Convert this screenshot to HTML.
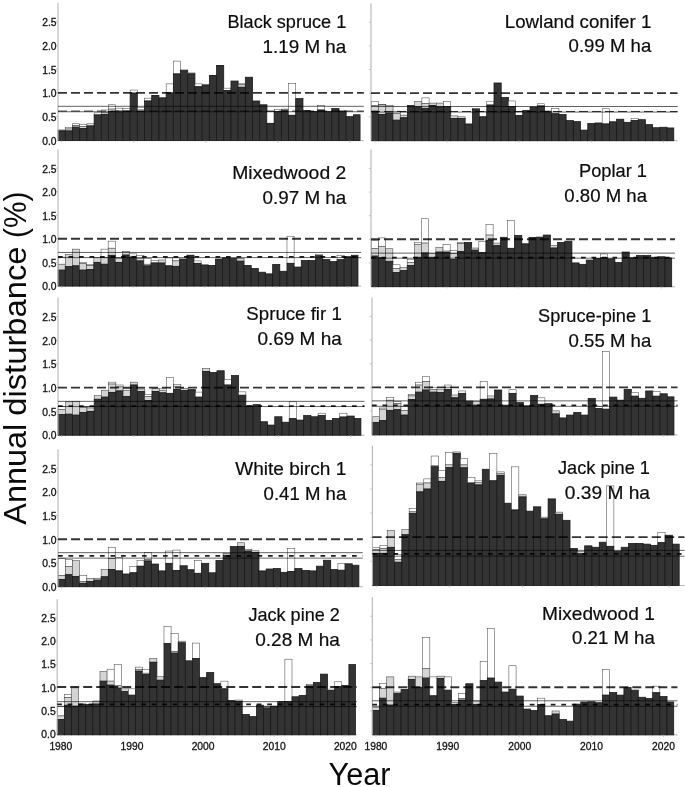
<!DOCTYPE html>
<html lang="en"><head><meta charset="utf-8"><title>Annual disturbance by forest type</title>
<style>html,body{margin:0;padding:0;background:#fff}svg{display:block}text{font-family:"Liberation Sans",Arial,sans-serif;fill:#111}.tk{font-size:10.3px;fill:#141414;stroke:#141414;stroke-width:0.3px}.lb{font-size:18.2px;fill:#0d0d0d;stroke:#0d0d0d;stroke-width:0.2px}.big{font-size:31px;fill:#0a0a0a}</style></head><body>
<svg width="685" height="787" viewBox="0 0 685 787">
<rect width="685" height="787" fill="#fff"/>
<g>
<path d="M58 140.65H363.8" stroke="#a0a0a0" stroke-width="0.8" fill="none"/><rect x="58.1" y="129.95" width="7.2" height="0.95" fill="#d4d4d4" stroke="#444" stroke-width="0.55"/><rect x="58.1" y="130.9" width="7.2" height="9.7" fill="#333333" stroke="#161616" stroke-width="0.75"/>
<rect x="65.3" y="127.58" width="7.2" height="1.42" fill="#fff" stroke="#3d3d3d" stroke-width="0.5"/><rect x="65.3" y="129" width="7.2" height="1.9" fill="#d4d4d4" stroke="#444" stroke-width="0.55"/><rect x="65.3" y="130.9" width="7.2" height="9.7" fill="#333333" stroke="#161616" stroke-width="0.75"/>
<rect x="72.5" y="123.78" width="7.2" height="1.9" fill="#fff" stroke="#3d3d3d" stroke-width="0.5"/><rect x="72.5" y="125.68" width="7.2" height="1.42" fill="#d4d4d4" stroke="#444" stroke-width="0.55"/><rect x="72.5" y="127.1" width="7.2" height="13.5" fill="#333333" stroke="#161616" stroke-width="0.75"/>
<rect x="79.71" y="124.73" width="7.2" height="1.9" fill="#fff" stroke="#3d3d3d" stroke-width="0.5"/><rect x="79.71" y="126.62" width="7.2" height="1.9" fill="#d4d4d4" stroke="#444" stroke-width="0.55"/><rect x="79.71" y="128.53" width="7.2" height="12.07" fill="#333333" stroke="#161616" stroke-width="0.75"/>
<rect x="86.91" y="123.78" width="7.2" height="1.42" fill="#fff" stroke="#3d3d3d" stroke-width="0.5"/><rect x="86.91" y="125.2" width="7.2" height="0.95" fill="#d4d4d4" stroke="#444" stroke-width="0.55"/><rect x="86.91" y="126.15" width="7.2" height="14.45" fill="#333333" stroke="#161616" stroke-width="0.75"/>
<rect x="94.11" y="112.85" width="7.2" height="1.42" fill="#fff" stroke="#3d3d3d" stroke-width="0.5"/><rect x="94.11" y="114.28" width="7.2" height="0.95" fill="#d4d4d4" stroke="#444" stroke-width="0.55"/><rect x="94.11" y="115.23" width="7.2" height="25.37" fill="#333333" stroke="#161616" stroke-width="0.75"/>
<rect x="101.31" y="110" width="7.2" height="2.38" fill="#fff" stroke="#3d3d3d" stroke-width="0.5"/><rect x="101.31" y="112.38" width="7.2" height="1.9" fill="#d4d4d4" stroke="#444" stroke-width="0.55"/><rect x="101.31" y="114.28" width="7.2" height="26.32" fill="#333333" stroke="#161616" stroke-width="0.75"/>
<rect x="108.51" y="104.78" width="7.2" height="4.28" fill="#fff" stroke="#3d3d3d" stroke-width="0.5"/><rect x="108.51" y="109.05" width="7.2" height="2.38" fill="#d4d4d4" stroke="#444" stroke-width="0.55"/><rect x="108.51" y="111.43" width="7.2" height="29.17" fill="#333333" stroke="#161616" stroke-width="0.75"/>
<rect x="115.72" y="108.1" width="7.2" height="2.85" fill="#fff" stroke="#3d3d3d" stroke-width="0.5"/><rect x="115.72" y="110.95" width="7.2" height="0.95" fill="#d4d4d4" stroke="#444" stroke-width="0.55"/><rect x="115.72" y="111.9" width="7.2" height="28.7" fill="#333333" stroke="#161616" stroke-width="0.75"/>
<rect x="122.92" y="108.58" width="7.2" height="2.38" fill="#fff" stroke="#3d3d3d" stroke-width="0.5"/><rect x="122.92" y="110.95" width="7.2" height="0.48" fill="#d4d4d4" stroke="#444" stroke-width="0.55"/><rect x="122.92" y="111.43" width="7.2" height="29.17" fill="#333333" stroke="#161616" stroke-width="0.75"/>
<rect x="130.12" y="90.05" width="7.2" height="2.85" fill="#fff" stroke="#3d3d3d" stroke-width="0.5"/><rect x="130.12" y="92.9" width="7.2" height="0.47" fill="#d4d4d4" stroke="#444" stroke-width="0.55"/><rect x="130.12" y="93.38" width="7.2" height="47.22" fill="#333333" stroke="#161616" stroke-width="0.75"/>
<rect x="137.32" y="107.62" width="7.2" height="2.38" fill="#fff" stroke="#3d3d3d" stroke-width="0.5"/><rect x="137.32" y="110" width="7.2" height="1.43" fill="#d4d4d4" stroke="#444" stroke-width="0.55"/><rect x="137.32" y="111.43" width="7.2" height="29.17" fill="#333333" stroke="#161616" stroke-width="0.75"/>
<rect x="144.52" y="98.12" width="7.2" height="2.38" fill="#fff" stroke="#3d3d3d" stroke-width="0.5"/><rect x="144.52" y="100.5" width="7.2" height="0.95" fill="#d4d4d4" stroke="#444" stroke-width="0.55"/><rect x="144.52" y="101.45" width="7.2" height="39.15" fill="#333333" stroke="#161616" stroke-width="0.75"/>
<rect x="151.73" y="95.28" width="7.2" height="0.47" fill="#d4d4d4" stroke="#444" stroke-width="0.55"/><rect x="151.73" y="95.75" width="7.2" height="44.85" fill="#333333" stroke="#161616" stroke-width="0.75"/>
<rect x="158.93" y="97.65" width="7.2" height="0.47" fill="#fff" stroke="#3d3d3d" stroke-width="0.5"/><rect x="158.93" y="98.12" width="7.2" height="42.47" fill="#333333" stroke="#161616" stroke-width="0.75"/>
<rect x="166.13" y="83.88" width="7.2" height="9.03" fill="#fff" stroke="#3d3d3d" stroke-width="0.5"/><rect x="166.13" y="92.9" width="7.2" height="47.7" fill="#333333" stroke="#161616" stroke-width="0.75"/>
<rect x="173.33" y="61.08" width="7.2" height="12.83" fill="#fff" stroke="#3d3d3d" stroke-width="0.5"/><rect x="173.33" y="73.9" width="7.2" height="66.7" fill="#333333" stroke="#161616" stroke-width="0.75"/>
<rect x="180.53" y="70.1" width="7.2" height="70.5" fill="#333333" stroke="#161616" stroke-width="0.75"/>
<rect x="187.74" y="72.95" width="7.2" height="0.95" fill="#d4d4d4" stroke="#444" stroke-width="0.55"/><rect x="187.74" y="73.9" width="7.2" height="66.7" fill="#333333" stroke="#161616" stroke-width="0.75"/>
<rect x="194.94" y="83.88" width="7.2" height="2.85" fill="#fff" stroke="#3d3d3d" stroke-width="0.5"/><rect x="194.94" y="86.73" width="7.2" height="53.87" fill="#333333" stroke="#161616" stroke-width="0.75"/>
<rect x="202.14" y="84.83" width="7.2" height="55.77" fill="#333333" stroke="#161616" stroke-width="0.75"/>
<rect x="209.34" y="75.33" width="7.2" height="0.47" fill="#d4d4d4" stroke="#444" stroke-width="0.55"/><rect x="209.34" y="75.8" width="7.2" height="64.8" fill="#333333" stroke="#161616" stroke-width="0.75"/>
<rect x="216.54" y="65.35" width="7.2" height="0.47" fill="#d4d4d4" stroke="#444" stroke-width="0.55"/><rect x="216.54" y="65.83" width="7.2" height="74.77" fill="#333333" stroke="#161616" stroke-width="0.75"/>
<rect x="223.75" y="88.15" width="7.2" height="2.38" fill="#fff" stroke="#3d3d3d" stroke-width="0.5"/><rect x="223.75" y="90.53" width="7.2" height="50.07" fill="#333333" stroke="#161616" stroke-width="0.75"/>
<rect x="230.95" y="81.03" width="7.2" height="59.57" fill="#333333" stroke="#161616" stroke-width="0.75"/>
<rect x="238.15" y="83.4" width="7.2" height="1.43" fill="#fff" stroke="#3d3d3d" stroke-width="0.5"/><rect x="238.15" y="84.83" width="7.2" height="2.37" fill="#d4d4d4" stroke="#444" stroke-width="0.55"/><rect x="238.15" y="87.2" width="7.2" height="53.4" fill="#333333" stroke="#161616" stroke-width="0.75"/>
<rect x="245.35" y="77.22" width="7.2" height="63.38" fill="#333333" stroke="#161616" stroke-width="0.75"/>
<rect x="252.55" y="100.98" width="7.2" height="39.62" fill="#333333" stroke="#161616" stroke-width="0.75"/>
<rect x="259.76" y="104.78" width="7.2" height="35.82" fill="#333333" stroke="#161616" stroke-width="0.75"/>
<rect x="266.96" y="111.43" width="7.2" height="11.88" fill="#fff" stroke="#3d3d3d" stroke-width="0.5"/><rect x="266.96" y="123.3" width="7.2" height="17.3" fill="#333333" stroke="#161616" stroke-width="0.75"/>
<rect x="274.16" y="109.53" width="7.2" height="1.9" fill="#fff" stroke="#3d3d3d" stroke-width="0.5"/><rect x="274.16" y="111.43" width="7.2" height="29.17" fill="#333333" stroke="#161616" stroke-width="0.75"/>
<rect x="281.36" y="109.05" width="7.2" height="0.95" fill="#fff" stroke="#3d3d3d" stroke-width="0.5"/><rect x="281.36" y="110" width="7.2" height="0.95" fill="#d4d4d4" stroke="#444" stroke-width="0.55"/><rect x="281.36" y="110.95" width="7.2" height="29.65" fill="#333333" stroke="#161616" stroke-width="0.75"/>
<rect x="288.56" y="83.4" width="7.2" height="31.83" fill="#fff" stroke="#3d3d3d" stroke-width="0.5"/><rect x="288.56" y="115.23" width="7.2" height="25.37" fill="#333333" stroke="#161616" stroke-width="0.75"/>
<rect x="295.77" y="98.6" width="7.2" height="42" fill="#333333" stroke="#161616" stroke-width="0.75"/>
<rect x="302.97" y="110.48" width="7.2" height="30.12" fill="#333333" stroke="#161616" stroke-width="0.75"/>
<rect x="310.17" y="111.43" width="7.2" height="29.17" fill="#333333" stroke="#161616" stroke-width="0.75"/>
<rect x="317.37" y="105.73" width="7.2" height="4.27" fill="#fff" stroke="#3d3d3d" stroke-width="0.5"/><rect x="317.37" y="110" width="7.2" height="30.6" fill="#333333" stroke="#161616" stroke-width="0.75"/>
<rect x="324.57" y="111.66" width="7.2" height="28.94" fill="#333333" stroke="#161616" stroke-width="0.75"/>
<rect x="331.78" y="108.58" width="7.2" height="32.02" fill="#333333" stroke="#161616" stroke-width="0.75"/>
<rect x="338.98" y="110.95" width="7.2" height="29.65" fill="#333333" stroke="#161616" stroke-width="0.75"/>
<rect x="346.18" y="116.65" width="7.2" height="23.95" fill="#333333" stroke="#161616" stroke-width="0.75"/>
<rect x="353.38" y="114.75" width="6.7" height="25.85" fill="#333333" stroke="#161616" stroke-width="0.75"/>
<path d="M58 2.65V140.4" stroke="#b2b2b2" stroke-width="1.05" fill="none"/><path d="M57.5 116.65h-1.6M57.5 92.9h-1.6M57.5 69.15h-1.6M57.5 45.4h-1.6M57.5 21.65h-1.6M61.7 140.4v2M133.72 140.4v2M205.74 140.4v2M277.76 140.4v2M349.78 140.4v2" stroke="#a8a8a8" stroke-width="0.7" fill="none"/>
<path d="M58 92.9H363.8" stroke="#000" stroke-opacity="0.8" stroke-width="1.9" stroke-dasharray="9 4" fill="none"/><path d="M58 106.3H363.8" stroke="#000" stroke-width="0.62" fill="none"/><path d="M58 111.76H363.8" stroke="#000" stroke-width="0.6" fill="none"/><path d="M58 111.09H363.8" stroke="#000" stroke-opacity="0.8" stroke-width="1" stroke-dasharray="9 4" fill="none"/>
<text class="tk" x="56.5" y="144.85" text-anchor="end">0.0</text><text class="tk" x="56.5" y="121.1" text-anchor="end">0.5</text><text class="tk" x="56.5" y="97.35" text-anchor="end">1.0</text><text class="tk" x="56.5" y="73.6" text-anchor="end">1.5</text><text class="tk" x="56.5" y="49.85" text-anchor="end">2.0</text><text class="tk" x="56.5" y="26.1" text-anchor="end">2.5</text>
<text class="lb" x="346.3" y="27.5" text-anchor="end" textLength="118.86" lengthAdjust="spacingAndGlyphs">Black spruce 1</text><text class="lb" x="346.3" y="52.5" text-anchor="end" textLength="83.69" lengthAdjust="spacingAndGlyphs">1.19 M ha</text>
</g>
<g>
<path d="M371 140.75H677.6" stroke="#a0a0a0" stroke-width="0.8" fill="none"/><rect x="371.4" y="101.67" width="7.21" height="3.79" fill="#fff" stroke="#3d3d3d" stroke-width="0.5"/><rect x="371.4" y="105.46" width="7.21" height="5.68" fill="#d4d4d4" stroke="#444" stroke-width="0.55"/><rect x="371.4" y="111.14" width="7.21" height="29.56" fill="#333333" stroke="#161616" stroke-width="0.75"/>
<rect x="378.61" y="104.51" width="7.21" height="0.47" fill="#fff" stroke="#3d3d3d" stroke-width="0.5"/><rect x="378.61" y="104.99" width="7.21" height="9.47" fill="#d4d4d4" stroke="#444" stroke-width="0.55"/><rect x="378.61" y="114.46" width="7.21" height="26.24" fill="#333333" stroke="#161616" stroke-width="0.75"/>
<rect x="385.82" y="105.46" width="7.21" height="7.58" fill="#d4d4d4" stroke="#444" stroke-width="0.55"/><rect x="385.82" y="113.04" width="7.21" height="27.66" fill="#333333" stroke="#161616" stroke-width="0.75"/>
<rect x="393.04" y="111.14" width="7.21" height="2.37" fill="#fff" stroke="#3d3d3d" stroke-width="0.5"/><rect x="393.04" y="113.51" width="7.21" height="6.63" fill="#d4d4d4" stroke="#444" stroke-width="0.55"/><rect x="393.04" y="120.14" width="7.21" height="20.56" fill="#333333" stroke="#161616" stroke-width="0.75"/>
<rect x="400.25" y="111.85" width="7.21" height="3.31" fill="#fff" stroke="#3d3d3d" stroke-width="0.5"/><rect x="400.25" y="115.17" width="7.21" height="2.6" fill="#d4d4d4" stroke="#444" stroke-width="0.55"/><rect x="400.25" y="117.77" width="7.21" height="22.93" fill="#333333" stroke="#161616" stroke-width="0.75"/>
<rect x="407.46" y="105.46" width="7.21" height="35.24" fill="#333333" stroke="#161616" stroke-width="0.75"/>
<rect x="414.67" y="101.67" width="7.21" height="5.21" fill="#d4d4d4" stroke="#444" stroke-width="0.55"/><rect x="414.67" y="106.88" width="7.21" height="33.82" fill="#333333" stroke="#161616" stroke-width="0.75"/>
<rect x="421.88" y="97.88" width="7.21" height="5.68" fill="#fff" stroke="#3d3d3d" stroke-width="0.5"/><rect x="421.88" y="103.57" width="7.21" height="4.73" fill="#d4d4d4" stroke="#444" stroke-width="0.55"/><rect x="421.88" y="108.3" width="7.21" height="32.4" fill="#333333" stroke="#161616" stroke-width="0.75"/>
<rect x="429.1" y="103.09" width="7.21" height="2.37" fill="#d4d4d4" stroke="#444" stroke-width="0.55"/><rect x="429.1" y="105.46" width="7.21" height="35.24" fill="#333333" stroke="#161616" stroke-width="0.75"/>
<rect x="436.31" y="103.09" width="7.21" height="3.79" fill="#d4d4d4" stroke="#444" stroke-width="0.55"/><rect x="436.31" y="106.88" width="7.21" height="33.82" fill="#333333" stroke="#161616" stroke-width="0.75"/>
<rect x="443.52" y="101.67" width="7.21" height="4.73" fill="#fff" stroke="#3d3d3d" stroke-width="0.5"/><rect x="443.52" y="106.41" width="7.21" height="34.29" fill="#333333" stroke="#161616" stroke-width="0.75"/>
<rect x="450.73" y="115.88" width="7.21" height="2.6" fill="#d4d4d4" stroke="#444" stroke-width="0.55"/><rect x="450.73" y="118.48" width="7.21" height="22.22" fill="#333333" stroke="#161616" stroke-width="0.75"/>
<rect x="457.94" y="116.83" width="7.21" height="1.66" fill="#d4d4d4" stroke="#444" stroke-width="0.55"/><rect x="457.94" y="118.48" width="7.21" height="22.22" fill="#333333" stroke="#161616" stroke-width="0.75"/>
<rect x="465.16" y="123.93" width="7.21" height="16.77" fill="#333333" stroke="#161616" stroke-width="0.75"/>
<rect x="472.37" y="108.3" width="7.21" height="0.95" fill="#d4d4d4" stroke="#444" stroke-width="0.55"/><rect x="472.37" y="109.25" width="7.21" height="31.45" fill="#333333" stroke="#161616" stroke-width="0.75"/>
<rect x="479.58" y="111.62" width="7.21" height="5.21" fill="#fff" stroke="#3d3d3d" stroke-width="0.5"/><rect x="479.58" y="116.83" width="7.21" height="23.87" fill="#333333" stroke="#161616" stroke-width="0.75"/>
<rect x="486.79" y="101.2" width="7.21" height="3.79" fill="#fff" stroke="#3d3d3d" stroke-width="0.5"/><rect x="486.79" y="104.99" width="7.21" height="35.71" fill="#333333" stroke="#161616" stroke-width="0.75"/>
<rect x="494" y="82.97" width="7.21" height="57.73" fill="#333333" stroke="#161616" stroke-width="0.75"/>
<rect x="501.22" y="97.41" width="7.21" height="43.29" fill="#333333" stroke="#161616" stroke-width="0.75"/>
<rect x="508.43" y="100.96" width="7.21" height="5.45" fill="#fff" stroke="#3d3d3d" stroke-width="0.5"/><rect x="508.43" y="106.41" width="7.21" height="34.29" fill="#333333" stroke="#161616" stroke-width="0.75"/>
<rect x="515.64" y="111.62" width="7.21" height="3.79" fill="#fff" stroke="#3d3d3d" stroke-width="0.5"/><rect x="515.64" y="115.4" width="7.21" height="25.3" fill="#333333" stroke="#161616" stroke-width="0.75"/>
<rect x="522.85" y="110.43" width="7.21" height="30.27" fill="#333333" stroke="#161616" stroke-width="0.75"/>
<rect x="530.06" y="106.88" width="7.21" height="0.71" fill="#d4d4d4" stroke="#444" stroke-width="0.55"/><rect x="530.06" y="107.59" width="7.21" height="33.11" fill="#333333" stroke="#161616" stroke-width="0.75"/>
<rect x="537.28" y="103.8" width="7.21" height="2.13" fill="#fff" stroke="#3d3d3d" stroke-width="0.5"/><rect x="537.28" y="105.93" width="7.21" height="34.77" fill="#333333" stroke="#161616" stroke-width="0.75"/>
<rect x="544.49" y="111.14" width="7.21" height="29.56" fill="#333333" stroke="#161616" stroke-width="0.75"/>
<rect x="551.7" y="108.54" width="7.21" height="5.21" fill="#fff" stroke="#3d3d3d" stroke-width="0.5"/><rect x="551.7" y="113.75" width="7.21" height="26.95" fill="#333333" stroke="#161616" stroke-width="0.75"/>
<rect x="558.91" y="114.46" width="7.21" height="26.24" fill="#333333" stroke="#161616" stroke-width="0.75"/>
<rect x="566.12" y="120.61" width="7.21" height="20.09" fill="#333333" stroke="#161616" stroke-width="0.75"/>
<rect x="573.34" y="121.56" width="7.21" height="19.14" fill="#333333" stroke="#161616" stroke-width="0.75"/>
<rect x="580.55" y="130.08" width="7.21" height="10.62" fill="#333333" stroke="#161616" stroke-width="0.75"/>
<rect x="587.76" y="123.45" width="7.21" height="17.25" fill="#333333" stroke="#161616" stroke-width="0.75"/>
<rect x="594.97" y="122.98" width="7.21" height="17.72" fill="#333333" stroke="#161616" stroke-width="0.75"/>
<rect x="602.18" y="108.78" width="7.21" height="15.15" fill="#fff" stroke="#3d3d3d" stroke-width="0.5"/><rect x="602.18" y="123.93" width="7.21" height="16.77" fill="#333333" stroke="#161616" stroke-width="0.75"/>
<rect x="609.4" y="121.8" width="7.21" height="18.9" fill="#333333" stroke="#161616" stroke-width="0.75"/>
<rect x="616.61" y="119.19" width="7.21" height="21.51" fill="#333333" stroke="#161616" stroke-width="0.75"/>
<rect x="623.82" y="122.27" width="7.21" height="18.43" fill="#333333" stroke="#161616" stroke-width="0.75"/>
<rect x="631.03" y="118.48" width="7.21" height="2.13" fill="#fff" stroke="#3d3d3d" stroke-width="0.5"/><rect x="631.03" y="120.61" width="7.21" height="20.09" fill="#333333" stroke="#161616" stroke-width="0.75"/>
<rect x="638.24" y="119.67" width="7.21" height="21.03" fill="#333333" stroke="#161616" stroke-width="0.75"/>
<rect x="645.46" y="124.64" width="7.21" height="16.06" fill="#333333" stroke="#161616" stroke-width="0.75"/>
<rect x="652.67" y="127.72" width="7.21" height="12.98" fill="#333333" stroke="#161616" stroke-width="0.75"/>
<rect x="659.88" y="127.24" width="7.21" height="13.46" fill="#333333" stroke="#161616" stroke-width="0.75"/>
<rect x="667.09" y="127.95" width="6.71" height="12.75" fill="#333333" stroke="#161616" stroke-width="0.75"/>
<path d="M371 3.19V140.5" stroke="#b2b2b2" stroke-width="1.05" fill="none"/><path d="M370.5 116.83h-1.6M370.5 93.15h-1.6M370.5 69.47h-1.6M370.5 45.8h-1.6M370.5 22.12h-1.6M375.01 140.5v2M447.13 140.5v2M519.25 140.5v2M591.37 140.5v2M663.49 140.5v2" stroke="#a8a8a8" stroke-width="0.7" fill="none"/>
<path d="M371 93.15H677.6" stroke="#000" stroke-opacity="0.8" stroke-width="1.9" stroke-dasharray="9 4" fill="none"/><path d="M371 106.5H677.6" stroke="#000" stroke-width="0.62" fill="none"/><path d="M371 112.09H677.6" stroke="#000" stroke-width="0.6" fill="none"/><path d="M371 111.47H677.6" stroke="#000" stroke-opacity="0.8" stroke-width="1" stroke-dasharray="9 4" fill="none"/>
<text class="lb" x="651.3" y="27.5" text-anchor="end" textLength="146.51" lengthAdjust="spacingAndGlyphs">Lowland conifer 1</text><text class="lb" x="651.3" y="52.2" text-anchor="end" textLength="82.7" lengthAdjust="spacingAndGlyphs">0.99 M ha</text>
</g>
<g>
<path d="M58 286.1H361.2" stroke="#a0a0a0" stroke-width="0.8" fill="none"/><rect x="58.1" y="257.14" width="7.15" height="7.06" fill="#fff" stroke="#3d3d3d" stroke-width="0.5"/><rect x="58.1" y="264.2" width="7.15" height="5.88" fill="#d4d4d4" stroke="#444" stroke-width="0.55"/><rect x="58.1" y="270.08" width="7.15" height="15.97" fill="#333333" stroke="#161616" stroke-width="0.75"/>
<rect x="65.25" y="254.32" width="7.15" height="12.24" fill="#d4d4d4" stroke="#444" stroke-width="0.55"/><rect x="65.25" y="266.56" width="7.15" height="19.49" fill="#333333" stroke="#161616" stroke-width="0.75"/>
<rect x="72.4" y="249.14" width="7.15" height="16.71" fill="#d4d4d4" stroke="#444" stroke-width="0.55"/><rect x="72.4" y="265.85" width="7.15" height="20.2" fill="#333333" stroke="#161616" stroke-width="0.75"/>
<rect x="79.56" y="262.32" width="7.15" height="0.94" fill="#fff" stroke="#3d3d3d" stroke-width="0.5"/><rect x="79.56" y="263.26" width="7.15" height="6.82" fill="#d4d4d4" stroke="#444" stroke-width="0.55"/><rect x="79.56" y="270.08" width="7.15" height="15.97" fill="#333333" stroke="#161616" stroke-width="0.75"/>
<rect x="86.71" y="264.67" width="7.15" height="0.94" fill="#fff" stroke="#3d3d3d" stroke-width="0.5"/><rect x="86.71" y="265.61" width="7.15" height="3.76" fill="#d4d4d4" stroke="#444" stroke-width="0.55"/><rect x="86.71" y="269.38" width="7.15" height="16.67" fill="#333333" stroke="#161616" stroke-width="0.75"/>
<rect x="93.86" y="257.61" width="7.15" height="4.71" fill="#d4d4d4" stroke="#444" stroke-width="0.55"/><rect x="93.86" y="262.32" width="7.15" height="23.73" fill="#333333" stroke="#161616" stroke-width="0.75"/>
<rect x="101.01" y="249.14" width="7.15" height="8.47" fill="#fff" stroke="#3d3d3d" stroke-width="0.5"/><rect x="101.01" y="257.61" width="7.15" height="6.59" fill="#d4d4d4" stroke="#444" stroke-width="0.55"/><rect x="101.01" y="264.2" width="7.15" height="21.85" fill="#333333" stroke="#161616" stroke-width="0.75"/>
<rect x="108.16" y="241.14" width="7.15" height="7.06" fill="#fff" stroke="#3d3d3d" stroke-width="0.5"/><rect x="108.16" y="248.2" width="7.15" height="7.06" fill="#d4d4d4" stroke="#444" stroke-width="0.55"/><rect x="108.16" y="255.26" width="7.15" height="30.79" fill="#333333" stroke="#161616" stroke-width="0.75"/>
<rect x="115.32" y="257.61" width="7.15" height="0.71" fill="#fff" stroke="#3d3d3d" stroke-width="0.5"/><rect x="115.32" y="258.32" width="7.15" height="4" fill="#d4d4d4" stroke="#444" stroke-width="0.55"/><rect x="115.32" y="262.32" width="7.15" height="23.73" fill="#333333" stroke="#161616" stroke-width="0.75"/>
<rect x="122.47" y="251.5" width="7.15" height="3.53" fill="#d4d4d4" stroke="#444" stroke-width="0.55"/><rect x="122.47" y="255.03" width="7.15" height="31.02" fill="#333333" stroke="#161616" stroke-width="0.75"/>
<rect x="129.62" y="253.85" width="7.15" height="2.35" fill="#fff" stroke="#3d3d3d" stroke-width="0.5"/><rect x="129.62" y="256.2" width="7.15" height="1.41" fill="#d4d4d4" stroke="#444" stroke-width="0.55"/><rect x="129.62" y="257.61" width="7.15" height="28.44" fill="#333333" stroke="#161616" stroke-width="0.75"/>
<rect x="136.77" y="255.73" width="7.15" height="2.59" fill="#fff" stroke="#3d3d3d" stroke-width="0.5"/><rect x="136.77" y="258.32" width="7.15" height="2.59" fill="#d4d4d4" stroke="#444" stroke-width="0.55"/><rect x="136.77" y="260.91" width="7.15" height="25.14" fill="#333333" stroke="#161616" stroke-width="0.75"/>
<rect x="143.92" y="258.32" width="7.15" height="5.88" fill="#fff" stroke="#3d3d3d" stroke-width="0.5"/><rect x="143.92" y="264.2" width="7.15" height="1.65" fill="#d4d4d4" stroke="#444" stroke-width="0.55"/><rect x="143.92" y="265.85" width="7.15" height="20.2" fill="#333333" stroke="#161616" stroke-width="0.75"/>
<rect x="151.08" y="260.44" width="7.15" height="1.88" fill="#fff" stroke="#3d3d3d" stroke-width="0.5"/><rect x="151.08" y="262.32" width="7.15" height="0.94" fill="#d4d4d4" stroke="#444" stroke-width="0.55"/><rect x="151.08" y="263.26" width="7.15" height="22.79" fill="#333333" stroke="#161616" stroke-width="0.75"/>
<rect x="158.23" y="259.97" width="7.15" height="3.06" fill="#d4d4d4" stroke="#444" stroke-width="0.55"/><rect x="158.23" y="263.03" width="7.15" height="23.02" fill="#333333" stroke="#161616" stroke-width="0.75"/>
<rect x="165.38" y="257.85" width="7.15" height="8" fill="#fff" stroke="#3d3d3d" stroke-width="0.5"/><rect x="165.38" y="265.85" width="7.15" height="20.2" fill="#333333" stroke="#161616" stroke-width="0.75"/>
<rect x="172.53" y="257.85" width="7.15" height="3.06" fill="#fff" stroke="#3d3d3d" stroke-width="0.5"/><rect x="172.53" y="260.91" width="7.15" height="5.41" fill="#d4d4d4" stroke="#444" stroke-width="0.55"/><rect x="172.53" y="266.32" width="7.15" height="19.73" fill="#333333" stroke="#161616" stroke-width="0.75"/>
<rect x="179.68" y="259.03" width="7.15" height="27.02" fill="#333333" stroke="#161616" stroke-width="0.75"/>
<rect x="186.84" y="255.03" width="7.15" height="0.71" fill="#d4d4d4" stroke="#444" stroke-width="0.55"/><rect x="186.84" y="255.73" width="7.15" height="30.32" fill="#333333" stroke="#161616" stroke-width="0.75"/>
<rect x="193.99" y="260.91" width="7.15" height="2.35" fill="#fff" stroke="#3d3d3d" stroke-width="0.5"/><rect x="193.99" y="263.26" width="7.15" height="22.79" fill="#333333" stroke="#161616" stroke-width="0.75"/>
<rect x="201.14" y="264.91" width="7.15" height="21.14" fill="#333333" stroke="#161616" stroke-width="0.75"/>
<rect x="208.29" y="265.38" width="7.15" height="20.67" fill="#333333" stroke="#161616" stroke-width="0.75"/>
<rect x="215.44" y="259.03" width="7.15" height="27.02" fill="#333333" stroke="#161616" stroke-width="0.75"/>
<rect x="222.6" y="257.85" width="7.15" height="28.2" fill="#333333" stroke="#161616" stroke-width="0.75"/>
<rect x="229.75" y="258.32" width="7.15" height="27.73" fill="#333333" stroke="#161616" stroke-width="0.75"/>
<rect x="236.9" y="258.32" width="7.15" height="2.82" fill="#d4d4d4" stroke="#444" stroke-width="0.55"/><rect x="236.9" y="261.14" width="7.15" height="24.91" fill="#333333" stroke="#161616" stroke-width="0.75"/>
<rect x="244.05" y="265.38" width="7.15" height="20.67" fill="#333333" stroke="#161616" stroke-width="0.75"/>
<rect x="251.2" y="268.44" width="7.15" height="17.61" fill="#333333" stroke="#161616" stroke-width="0.75"/>
<rect x="258.36" y="272.2" width="7.15" height="13.85" fill="#333333" stroke="#161616" stroke-width="0.75"/>
<rect x="265.51" y="273.85" width="7.15" height="12.2" fill="#333333" stroke="#161616" stroke-width="0.75"/>
<rect x="272.66" y="264.44" width="7.15" height="21.61" fill="#333333" stroke="#161616" stroke-width="0.75"/>
<rect x="279.81" y="271.26" width="7.15" height="14.79" fill="#333333" stroke="#161616" stroke-width="0.75"/>
<rect x="286.96" y="236.2" width="7.15" height="27.06" fill="#fff" stroke="#3d3d3d" stroke-width="0.5"/><rect x="286.96" y="263.26" width="7.15" height="22.79" fill="#333333" stroke="#161616" stroke-width="0.75"/>
<rect x="294.12" y="267.03" width="7.15" height="19.02" fill="#333333" stroke="#161616" stroke-width="0.75"/>
<rect x="301.27" y="260.44" width="7.15" height="25.61" fill="#333333" stroke="#161616" stroke-width="0.75"/>
<rect x="308.42" y="260.44" width="7.15" height="25.61" fill="#333333" stroke="#161616" stroke-width="0.75"/>
<rect x="315.57" y="254.32" width="7.15" height="1.41" fill="#fff" stroke="#3d3d3d" stroke-width="0.5"/><rect x="315.57" y="255.73" width="7.15" height="30.32" fill="#333333" stroke="#161616" stroke-width="0.75"/>
<rect x="322.72" y="259.5" width="7.15" height="26.55" fill="#333333" stroke="#161616" stroke-width="0.75"/>
<rect x="329.88" y="261.61" width="7.15" height="24.44" fill="#333333" stroke="#161616" stroke-width="0.75"/>
<rect x="337.03" y="255.73" width="7.15" height="4" fill="#fff" stroke="#3d3d3d" stroke-width="0.5"/><rect x="337.03" y="259.73" width="7.15" height="26.32" fill="#333333" stroke="#161616" stroke-width="0.75"/>
<rect x="344.18" y="256.67" width="7.15" height="29.38" fill="#333333" stroke="#161616" stroke-width="0.75"/>
<rect x="351.33" y="255.26" width="6.65" height="30.79" fill="#333333" stroke="#161616" stroke-width="0.75"/>
<path d="M58 149.38V285.85" stroke="#b2b2b2" stroke-width="1.05" fill="none"/><path d="M57.5 262.32h-1.6M57.5 238.79h-1.6M57.5 215.26h-1.6M57.5 191.73h-1.6M57.5 168.2h-1.6M61.68 285.85v2M133.2 285.85v2M204.72 285.85v2M276.24 285.85v2M347.76 285.85v2" stroke="#a8a8a8" stroke-width="0.7" fill="none"/>
<path d="M58 238.79H361.2" stroke="#000" stroke-opacity="0.8" stroke-width="1.9" stroke-dasharray="9 4" fill="none"/><path d="M58 252.44H361.2" stroke="#000" stroke-width="0.62" fill="none"/><path d="M58 257.61H361.2" stroke="#000" stroke-width="0.6" fill="none"/><path d="M58 256.91H361.2" stroke="#000" stroke-opacity="0.88" stroke-width="1.75" stroke-dasharray="4.7 5.8" fill="none"/>
<text class="tk" x="56.5" y="290.3" text-anchor="end">0.0</text><text class="tk" x="56.5" y="266.77" text-anchor="end">0.5</text><text class="tk" x="56.5" y="243.24" text-anchor="end">1.0</text><text class="tk" x="56.5" y="219.71" text-anchor="end">1.5</text><text class="tk" x="56.5" y="196.18" text-anchor="end">2.0</text><text class="tk" x="56.5" y="172.65" text-anchor="end">2.5</text>
<text class="lb" x="346.3" y="178.5" text-anchor="end" textLength="114.08" lengthAdjust="spacingAndGlyphs">Mixedwood 2</text><text class="lb" x="346.3" y="203.5" text-anchor="end" textLength="83.69" lengthAdjust="spacingAndGlyphs">0.97 M ha</text>
</g>
<g>
<path d="M371 286.75H675" stroke="#a0a0a0" stroke-width="0.8" fill="none"/><rect x="371.4" y="240.24" width="7.16" height="8.26" fill="#fff" stroke="#3d3d3d" stroke-width="0.5"/><rect x="371.4" y="248.5" width="7.16" height="7.55" fill="#d4d4d4" stroke="#444" stroke-width="0.55"/><rect x="371.4" y="256.06" width="7.16" height="30.64" fill="#333333" stroke="#161616" stroke-width="0.75"/>
<rect x="378.56" y="237.88" width="7.16" height="8.5" fill="#fff" stroke="#3d3d3d" stroke-width="0.5"/><rect x="378.56" y="246.38" width="7.16" height="11.33" fill="#d4d4d4" stroke="#444" stroke-width="0.55"/><rect x="378.56" y="257.71" width="7.16" height="28.99" fill="#333333" stroke="#161616" stroke-width="0.75"/>
<rect x="385.72" y="248.74" width="7.16" height="12.51" fill="#d4d4d4" stroke="#444" stroke-width="0.55"/><rect x="385.72" y="261.25" width="7.16" height="25.45" fill="#333333" stroke="#161616" stroke-width="0.75"/>
<rect x="392.89" y="264.79" width="7.16" height="3.78" fill="#fff" stroke="#3d3d3d" stroke-width="0.5"/><rect x="392.89" y="268.56" width="7.16" height="4.01" fill="#d4d4d4" stroke="#444" stroke-width="0.55"/><rect x="392.89" y="272.58" width="7.16" height="14.12" fill="#333333" stroke="#161616" stroke-width="0.75"/>
<rect x="400.05" y="267.62" width="7.16" height="3.07" fill="#d4d4d4" stroke="#444" stroke-width="0.55"/><rect x="400.05" y="270.69" width="7.16" height="16.01" fill="#333333" stroke="#161616" stroke-width="0.75"/>
<rect x="407.21" y="259.36" width="7.16" height="3.07" fill="#fff" stroke="#3d3d3d" stroke-width="0.5"/><rect x="407.21" y="262.43" width="7.16" height="3.07" fill="#d4d4d4" stroke="#444" stroke-width="0.55"/><rect x="407.21" y="265.5" width="7.16" height="21.2" fill="#333333" stroke="#161616" stroke-width="0.75"/>
<rect x="414.37" y="242.6" width="7.16" height="1.65" fill="#fff" stroke="#3d3d3d" stroke-width="0.5"/><rect x="414.37" y="244.26" width="7.16" height="12.98" fill="#d4d4d4" stroke="#444" stroke-width="0.55"/><rect x="414.37" y="257.24" width="7.16" height="29.46" fill="#333333" stroke="#161616" stroke-width="0.75"/>
<rect x="421.53" y="218.77" width="7.16" height="24.31" fill="#fff" stroke="#3d3d3d" stroke-width="0.5"/><rect x="421.53" y="243.08" width="7.16" height="9.91" fill="#d4d4d4" stroke="#444" stroke-width="0.55"/><rect x="421.53" y="252.99" width="7.16" height="33.71" fill="#333333" stroke="#161616" stroke-width="0.75"/>
<rect x="428.7" y="253.46" width="7.16" height="3.78" fill="#d4d4d4" stroke="#444" stroke-width="0.55"/><rect x="428.7" y="257.24" width="7.16" height="29.46" fill="#333333" stroke="#161616" stroke-width="0.75"/>
<rect x="435.86" y="247.56" width="7.16" height="4.48" fill="#d4d4d4" stroke="#444" stroke-width="0.55"/><rect x="435.86" y="252.04" width="7.16" height="34.66" fill="#333333" stroke="#161616" stroke-width="0.75"/>
<rect x="443.02" y="244.73" width="7.16" height="6.37" fill="#fff" stroke="#3d3d3d" stroke-width="0.5"/><rect x="443.02" y="251.1" width="7.16" height="1.18" fill="#d4d4d4" stroke="#444" stroke-width="0.55"/><rect x="443.02" y="252.28" width="7.16" height="34.42" fill="#333333" stroke="#161616" stroke-width="0.75"/>
<rect x="450.18" y="250.63" width="7.16" height="2.83" fill="#fff" stroke="#3d3d3d" stroke-width="0.5"/><rect x="450.18" y="253.46" width="7.16" height="6.14" fill="#d4d4d4" stroke="#444" stroke-width="0.55"/><rect x="450.18" y="259.6" width="7.16" height="27.1" fill="#333333" stroke="#161616" stroke-width="0.75"/>
<rect x="457.34" y="242.37" width="7.16" height="1.18" fill="#fff" stroke="#3d3d3d" stroke-width="0.5"/><rect x="457.34" y="243.55" width="7.16" height="7.79" fill="#d4d4d4" stroke="#444" stroke-width="0.55"/><rect x="457.34" y="251.34" width="7.16" height="35.36" fill="#333333" stroke="#161616" stroke-width="0.75"/>
<rect x="464.51" y="242.37" width="7.16" height="44.33" fill="#333333" stroke="#161616" stroke-width="0.75"/>
<rect x="471.67" y="248.03" width="7.16" height="2.12" fill="#d4d4d4" stroke="#444" stroke-width="0.55"/><rect x="471.67" y="250.16" width="7.16" height="36.54" fill="#333333" stroke="#161616" stroke-width="0.75"/>
<rect x="478.83" y="241.66" width="7.16" height="10.86" fill="#fff" stroke="#3d3d3d" stroke-width="0.5"/><rect x="478.83" y="252.52" width="7.16" height="34.18" fill="#333333" stroke="#161616" stroke-width="0.75"/>
<rect x="485.99" y="224.67" width="7.16" height="10.38" fill="#fff" stroke="#3d3d3d" stroke-width="0.5"/><rect x="485.99" y="235.05" width="7.16" height="5.19" fill="#d4d4d4" stroke="#444" stroke-width="0.55"/><rect x="485.99" y="240.24" width="7.16" height="46.46" fill="#333333" stroke="#161616" stroke-width="0.75"/>
<rect x="493.15" y="243.08" width="7.16" height="2.6" fill="#d4d4d4" stroke="#444" stroke-width="0.55"/><rect x="493.15" y="245.67" width="7.16" height="41.03" fill="#333333" stroke="#161616" stroke-width="0.75"/>
<rect x="500.32" y="237.18" width="7.16" height="0.71" fill="#d4d4d4" stroke="#444" stroke-width="0.55"/><rect x="500.32" y="237.88" width="7.16" height="48.82" fill="#333333" stroke="#161616" stroke-width="0.75"/>
<rect x="507.48" y="220.66" width="7.16" height="27.61" fill="#fff" stroke="#3d3d3d" stroke-width="0.5"/><rect x="507.48" y="248.27" width="7.16" height="38.43" fill="#333333" stroke="#161616" stroke-width="0.75"/>
<rect x="514.64" y="235.52" width="7.16" height="51.18" fill="#333333" stroke="#161616" stroke-width="0.75"/>
<rect x="521.8" y="243.78" width="7.16" height="42.92" fill="#333333" stroke="#161616" stroke-width="0.75"/>
<rect x="528.96" y="237.41" width="7.16" height="49.29" fill="#333333" stroke="#161616" stroke-width="0.75"/>
<rect x="536.13" y="236.94" width="7.16" height="0.71" fill="#d4d4d4" stroke="#444" stroke-width="0.55"/><rect x="536.13" y="237.65" width="7.16" height="49.05" fill="#333333" stroke="#161616" stroke-width="0.75"/>
<rect x="543.29" y="235.05" width="7.16" height="51.65" fill="#333333" stroke="#161616" stroke-width="0.75"/>
<rect x="550.45" y="245.44" width="7.16" height="2.6" fill="#d4d4d4" stroke="#444" stroke-width="0.55"/><rect x="550.45" y="248.03" width="7.16" height="38.67" fill="#333333" stroke="#161616" stroke-width="0.75"/>
<rect x="557.61" y="242.37" width="7.16" height="44.33" fill="#333333" stroke="#161616" stroke-width="0.75"/>
<rect x="564.77" y="241.19" width="7.16" height="45.51" fill="#333333" stroke="#161616" stroke-width="0.75"/>
<rect x="571.94" y="262.9" width="7.16" height="23.8" fill="#333333" stroke="#161616" stroke-width="0.75"/>
<rect x="579.1" y="264.32" width="7.16" height="22.38" fill="#333333" stroke="#161616" stroke-width="0.75"/>
<rect x="586.26" y="260.07" width="7.16" height="26.63" fill="#333333" stroke="#161616" stroke-width="0.75"/>
<rect x="593.42" y="258.42" width="7.16" height="28.28" fill="#333333" stroke="#161616" stroke-width="0.75"/>
<rect x="600.58" y="253.93" width="7.16" height="3.78" fill="#fff" stroke="#3d3d3d" stroke-width="0.5"/><rect x="600.58" y="257.71" width="7.16" height="28.99" fill="#333333" stroke="#161616" stroke-width="0.75"/>
<rect x="607.75" y="258.89" width="7.16" height="27.81" fill="#333333" stroke="#161616" stroke-width="0.75"/>
<rect x="614.91" y="262.43" width="7.16" height="24.27" fill="#333333" stroke="#161616" stroke-width="0.75"/>
<rect x="622.07" y="252.04" width="7.16" height="34.66" fill="#333333" stroke="#161616" stroke-width="0.75"/>
<rect x="629.23" y="257.71" width="7.16" height="28.99" fill="#333333" stroke="#161616" stroke-width="0.75"/>
<rect x="636.39" y="255.58" width="7.16" height="31.12" fill="#333333" stroke="#161616" stroke-width="0.75"/>
<rect x="643.56" y="255.58" width="7.16" height="31.12" fill="#333333" stroke="#161616" stroke-width="0.75"/>
<rect x="650.72" y="257.24" width="7.16" height="29.46" fill="#333333" stroke="#161616" stroke-width="0.75"/>
<rect x="657.88" y="256.76" width="7.16" height="29.94" fill="#333333" stroke="#161616" stroke-width="0.75"/>
<rect x="665.04" y="257.94" width="6.66" height="28.76" fill="#333333" stroke="#161616" stroke-width="0.75"/>
<path d="M371 149.62V286.5" stroke="#b2b2b2" stroke-width="1.05" fill="none"/><path d="M370.5 262.9h-1.6M370.5 239.3h-1.6M370.5 215.7h-1.6M370.5 192.1h-1.6M370.5 168.5h-1.6M374.98 286.5v2M446.6 286.5v2M518.22 286.5v2M589.84 286.5v2M661.46 286.5v2" stroke="#a8a8a8" stroke-width="0.7" fill="none"/>
<path d="M371 239.3H675" stroke="#000" stroke-opacity="0.8" stroke-width="1.9" stroke-dasharray="9 4" fill="none"/><path d="M371 253.13H675" stroke="#000" stroke-width="0.62" fill="none"/><path d="M371 258.18H675" stroke="#000" stroke-width="0.6" fill="none"/><path d="M371 257.61H675" stroke="#000" stroke-opacity="0.88" stroke-width="1.75" stroke-dasharray="4.7 5.8" fill="none"/>
<text class="lb" x="647" y="177.2" text-anchor="end" textLength="68.02" lengthAdjust="spacingAndGlyphs">Poplar 1</text><text class="lb" x="647" y="201.5" text-anchor="end" textLength="82.7" lengthAdjust="spacingAndGlyphs">0.80 M ha</text>
</g>
<g>
<path d="M58 435.25H364.5" stroke="#a0a0a0" stroke-width="0.8" fill="none"/><rect x="58.1" y="406.32" width="7.22" height="3.32" fill="#fff" stroke="#3d3d3d" stroke-width="0.5"/><rect x="58.1" y="409.64" width="7.22" height="4.98" fill="#d4d4d4" stroke="#444" stroke-width="0.55"/><rect x="58.1" y="414.62" width="7.22" height="20.58" fill="#333333" stroke="#161616" stroke-width="0.75"/>
<rect x="65.32" y="401.82" width="7.22" height="12.32" fill="#d4d4d4" stroke="#444" stroke-width="0.55"/><rect x="65.32" y="414.14" width="7.22" height="21.06" fill="#333333" stroke="#161616" stroke-width="0.75"/>
<rect x="72.54" y="401.58" width="7.22" height="13.51" fill="#d4d4d4" stroke="#444" stroke-width="0.55"/><rect x="72.54" y="415.09" width="7.22" height="20.11" fill="#333333" stroke="#161616" stroke-width="0.75"/>
<rect x="79.77" y="406.32" width="7.22" height="1.19" fill="#fff" stroke="#3d3d3d" stroke-width="0.5"/><rect x="79.77" y="407.51" width="7.22" height="4.98" fill="#d4d4d4" stroke="#444" stroke-width="0.55"/><rect x="79.77" y="412.49" width="7.22" height="22.71" fill="#333333" stroke="#161616" stroke-width="0.75"/>
<rect x="86.99" y="406.32" width="7.22" height="1.66" fill="#fff" stroke="#3d3d3d" stroke-width="0.5"/><rect x="86.99" y="407.98" width="7.22" height="3.32" fill="#d4d4d4" stroke="#444" stroke-width="0.55"/><rect x="86.99" y="411.3" width="7.22" height="23.9" fill="#333333" stroke="#161616" stroke-width="0.75"/>
<rect x="94.21" y="395.66" width="7.22" height="3.56" fill="#d4d4d4" stroke="#444" stroke-width="0.55"/><rect x="94.21" y="399.21" width="7.22" height="35.99" fill="#333333" stroke="#161616" stroke-width="0.75"/>
<rect x="101.43" y="390.21" width="7.22" height="6.87" fill="#d4d4d4" stroke="#444" stroke-width="0.55"/><rect x="101.43" y="397.08" width="7.22" height="38.12" fill="#333333" stroke="#161616" stroke-width="0.75"/>
<rect x="108.65" y="382.15" width="7.22" height="1.9" fill="#fff" stroke="#3d3d3d" stroke-width="0.5"/><rect x="108.65" y="384.05" width="7.22" height="8.3" fill="#d4d4d4" stroke="#444" stroke-width="0.55"/><rect x="108.65" y="392.34" width="7.22" height="42.86" fill="#333333" stroke="#161616" stroke-width="0.75"/>
<rect x="115.88" y="384.99" width="7.22" height="1.9" fill="#fff" stroke="#3d3d3d" stroke-width="0.5"/><rect x="115.88" y="386.89" width="7.22" height="4.03" fill="#d4d4d4" stroke="#444" stroke-width="0.55"/><rect x="115.88" y="390.92" width="7.22" height="44.28" fill="#333333" stroke="#161616" stroke-width="0.75"/>
<rect x="123.1" y="388.31" width="7.22" height="1.9" fill="#fff" stroke="#3d3d3d" stroke-width="0.5"/><rect x="123.1" y="390.21" width="7.22" height="6.16" fill="#d4d4d4" stroke="#444" stroke-width="0.55"/><rect x="123.1" y="396.37" width="7.22" height="38.83" fill="#333333" stroke="#161616" stroke-width="0.75"/>
<rect x="130.32" y="382.15" width="7.22" height="2.84" fill="#d4d4d4" stroke="#444" stroke-width="0.55"/><rect x="130.32" y="384.99" width="7.22" height="50.21" fill="#333333" stroke="#161616" stroke-width="0.75"/>
<rect x="137.54" y="389.02" width="7.22" height="2.61" fill="#d4d4d4" stroke="#444" stroke-width="0.55"/><rect x="137.54" y="391.63" width="7.22" height="43.57" fill="#333333" stroke="#161616" stroke-width="0.75"/>
<rect x="144.76" y="394.71" width="7.22" height="1.9" fill="#fff" stroke="#3d3d3d" stroke-width="0.5"/><rect x="144.76" y="396.61" width="7.22" height="3.79" fill="#d4d4d4" stroke="#444" stroke-width="0.55"/><rect x="144.76" y="400.4" width="7.22" height="34.8" fill="#333333" stroke="#161616" stroke-width="0.75"/>
<rect x="151.99" y="388.31" width="7.22" height="3.08" fill="#d4d4d4" stroke="#444" stroke-width="0.55"/><rect x="151.99" y="391.39" width="7.22" height="43.81" fill="#333333" stroke="#161616" stroke-width="0.75"/>
<rect x="159.21" y="388.79" width="7.22" height="1.42" fill="#fff" stroke="#3d3d3d" stroke-width="0.5"/><rect x="159.21" y="390.21" width="7.22" height="2.61" fill="#d4d4d4" stroke="#444" stroke-width="0.55"/><rect x="159.21" y="392.81" width="7.22" height="42.39" fill="#333333" stroke="#161616" stroke-width="0.75"/>
<rect x="166.43" y="377.65" width="7.22" height="15.64" fill="#fff" stroke="#3d3d3d" stroke-width="0.5"/><rect x="166.43" y="393.29" width="7.22" height="41.91" fill="#333333" stroke="#161616" stroke-width="0.75"/>
<rect x="173.65" y="384.52" width="7.22" height="1.66" fill="#fff" stroke="#3d3d3d" stroke-width="0.5"/><rect x="173.65" y="386.18" width="7.22" height="3.32" fill="#d4d4d4" stroke="#444" stroke-width="0.55"/><rect x="173.65" y="389.5" width="7.22" height="45.7" fill="#333333" stroke="#161616" stroke-width="0.75"/>
<rect x="180.87" y="388.31" width="7.22" height="2.37" fill="#d4d4d4" stroke="#444" stroke-width="0.55"/><rect x="180.87" y="390.68" width="7.22" height="44.52" fill="#333333" stroke="#161616" stroke-width="0.75"/>
<rect x="188.1" y="389.26" width="7.22" height="0.71" fill="#d4d4d4" stroke="#444" stroke-width="0.55"/><rect x="188.1" y="389.97" width="7.22" height="45.23" fill="#333333" stroke="#161616" stroke-width="0.75"/>
<rect x="195.32" y="392.1" width="7.22" height="4.98" fill="#fff" stroke="#3d3d3d" stroke-width="0.5"/><rect x="195.32" y="397.08" width="7.22" height="38.12" fill="#333333" stroke="#161616" stroke-width="0.75"/>
<rect x="202.54" y="368.64" width="7.22" height="2.84" fill="#d4d4d4" stroke="#444" stroke-width="0.55"/><rect x="202.54" y="371.48" width="7.22" height="63.72" fill="#333333" stroke="#161616" stroke-width="0.75"/>
<rect x="209.76" y="372.43" width="7.22" height="62.77" fill="#333333" stroke="#161616" stroke-width="0.75"/>
<rect x="216.98" y="370.77" width="7.22" height="64.43" fill="#333333" stroke="#161616" stroke-width="0.75"/>
<rect x="224.21" y="379.54" width="7.22" height="5.45" fill="#fff" stroke="#3d3d3d" stroke-width="0.5"/><rect x="224.21" y="384.99" width="7.22" height="50.21" fill="#333333" stroke="#161616" stroke-width="0.75"/>
<rect x="231.43" y="375.51" width="7.22" height="59.69" fill="#333333" stroke="#161616" stroke-width="0.75"/>
<rect x="238.65" y="391.87" width="7.22" height="3.32" fill="#fff" stroke="#3d3d3d" stroke-width="0.5"/><rect x="238.65" y="395.18" width="7.22" height="40.02" fill="#333333" stroke="#161616" stroke-width="0.75"/>
<rect x="245.87" y="405.85" width="7.22" height="29.35" fill="#333333" stroke="#161616" stroke-width="0.75"/>
<rect x="253.09" y="404.66" width="7.22" height="30.54" fill="#333333" stroke="#161616" stroke-width="0.75"/>
<rect x="260.32" y="421.73" width="7.22" height="13.47" fill="#333333" stroke="#161616" stroke-width="0.75"/>
<rect x="267.54" y="425.05" width="7.22" height="10.15" fill="#333333" stroke="#161616" stroke-width="0.75"/>
<rect x="274.76" y="416.75" width="7.22" height="18.45" fill="#333333" stroke="#161616" stroke-width="0.75"/>
<rect x="281.98" y="422.2" width="7.22" height="13" fill="#333333" stroke="#161616" stroke-width="0.75"/>
<rect x="289.2" y="401.82" width="7.22" height="16.83" fill="#fff" stroke="#3d3d3d" stroke-width="0.5"/><rect x="289.2" y="418.65" width="7.22" height="16.55" fill="#333333" stroke="#161616" stroke-width="0.75"/>
<rect x="296.43" y="420.07" width="7.22" height="15.13" fill="#333333" stroke="#161616" stroke-width="0.75"/>
<rect x="303.65" y="415.57" width="7.22" height="19.63" fill="#333333" stroke="#161616" stroke-width="0.75"/>
<rect x="310.87" y="416.75" width="7.22" height="18.45" fill="#333333" stroke="#161616" stroke-width="0.75"/>
<rect x="318.09" y="413.2" width="7.22" height="2.37" fill="#fff" stroke="#3d3d3d" stroke-width="0.5"/><rect x="318.09" y="415.57" width="7.22" height="19.63" fill="#333333" stroke="#161616" stroke-width="0.75"/>
<rect x="325.31" y="420.31" width="7.22" height="14.89" fill="#333333" stroke="#161616" stroke-width="0.75"/>
<rect x="332.54" y="418.41" width="7.22" height="16.79" fill="#333333" stroke="#161616" stroke-width="0.75"/>
<rect x="339.76" y="413.2" width="7.22" height="3.79" fill="#fff" stroke="#3d3d3d" stroke-width="0.5"/><rect x="339.76" y="416.99" width="7.22" height="18.21" fill="#333333" stroke="#161616" stroke-width="0.75"/>
<rect x="346.98" y="416.04" width="7.22" height="19.16" fill="#333333" stroke="#161616" stroke-width="0.75"/>
<rect x="354.2" y="418.41" width="6.72" height="16.79" fill="#333333" stroke="#161616" stroke-width="0.75"/>
<path d="M58 297.54V435" stroke="#b2b2b2" stroke-width="1.05" fill="none"/><path d="M57.5 411.3h-1.6M57.5 387.6h-1.6M57.5 363.9h-1.6M57.5 340.2h-1.6M57.5 316.5h-1.6M61.71 435v2M133.93 435v2M206.15 435v2M278.37 435v2M350.59 435v2" stroke="#a8a8a8" stroke-width="0.7" fill="none"/>
<path d="M58 387.6H364.5" stroke="#000" stroke-opacity="0.8" stroke-width="1.9" stroke-dasharray="9 4" fill="none"/><path d="M58 401.35H364.5" stroke="#000" stroke-width="0.62" fill="none"/><path d="M58 406.56H364.5" stroke="#000" stroke-width="0.6" fill="none"/><path d="M58 406.09H364.5" stroke="#000" stroke-opacity="0.88" stroke-width="1.75" stroke-dasharray="4.7 5.8" fill="none"/>
<text class="tk" x="56.5" y="439.45" text-anchor="end">0.0</text><text class="tk" x="56.5" y="415.75" text-anchor="end">0.5</text><text class="tk" x="56.5" y="392.05" text-anchor="end">1.0</text><text class="tk" x="56.5" y="368.35" text-anchor="end">1.5</text><text class="tk" x="56.5" y="344.65" text-anchor="end">2.0</text><text class="tk" x="56.5" y="320.95" text-anchor="end">2.5</text>
<text class="lb" x="341.8" y="320" text-anchor="end" textLength="95.45" lengthAdjust="spacingAndGlyphs">Spruce fir 1</text><text class="lb" x="341.8" y="344.7" text-anchor="end" textLength="84.36" lengthAdjust="spacingAndGlyphs">0.69 M ha</text>
</g>
<g>
<path d="M372 434.95H677.5" stroke="#a0a0a0" stroke-width="0.8" fill="none"/><rect x="372.2" y="416.73" width="7.2" height="5.91" fill="#d4d4d4" stroke="#444" stroke-width="0.55"/><rect x="372.2" y="422.64" width="7.2" height="12.26" fill="#333333" stroke="#161616" stroke-width="0.75"/>
<rect x="379.4" y="407.98" width="7.2" height="1.18" fill="#fff" stroke="#3d3d3d" stroke-width="0.5"/><rect x="379.4" y="409.16" width="7.2" height="11.35" fill="#d4d4d4" stroke="#444" stroke-width="0.55"/><rect x="379.4" y="420.51" width="7.2" height="14.39" fill="#333333" stroke="#161616" stroke-width="0.75"/>
<rect x="386.59" y="397.33" width="7.2" height="2.84" fill="#fff" stroke="#3d3d3d" stroke-width="0.5"/><rect x="386.59" y="400.17" width="7.2" height="10.17" fill="#d4d4d4" stroke="#444" stroke-width="0.55"/><rect x="386.59" y="410.34" width="7.2" height="24.56" fill="#333333" stroke="#161616" stroke-width="0.75"/>
<rect x="393.79" y="401.35" width="7.2" height="2.13" fill="#fff" stroke="#3d3d3d" stroke-width="0.5"/><rect x="393.79" y="403.48" width="7.2" height="6.15" fill="#d4d4d4" stroke="#444" stroke-width="0.55"/><rect x="393.79" y="409.63" width="7.2" height="25.27" fill="#333333" stroke="#161616" stroke-width="0.75"/>
<rect x="400.99" y="406.32" width="7.2" height="4.02" fill="#fff" stroke="#3d3d3d" stroke-width="0.5"/><rect x="400.99" y="410.34" width="7.2" height="4.73" fill="#d4d4d4" stroke="#444" stroke-width="0.55"/><rect x="400.99" y="415.07" width="7.2" height="19.83" fill="#333333" stroke="#161616" stroke-width="0.75"/>
<rect x="408.19" y="394.5" width="7.2" height="1.42" fill="#fff" stroke="#3d3d3d" stroke-width="0.5"/><rect x="408.19" y="395.91" width="7.2" height="3.55" fill="#d4d4d4" stroke="#444" stroke-width="0.55"/><rect x="408.19" y="399.46" width="7.2" height="35.44" fill="#333333" stroke="#161616" stroke-width="0.75"/>
<rect x="415.38" y="382.2" width="7.2" height="2.84" fill="#fff" stroke="#3d3d3d" stroke-width="0.5"/><rect x="415.38" y="385.03" width="7.2" height="7.1" fill="#d4d4d4" stroke="#444" stroke-width="0.55"/><rect x="415.38" y="392.13" width="7.2" height="42.77" fill="#333333" stroke="#161616" stroke-width="0.75"/>
<rect x="422.58" y="376.76" width="7.2" height="4.97" fill="#fff" stroke="#3d3d3d" stroke-width="0.5"/><rect x="422.58" y="381.72" width="7.2" height="8.28" fill="#d4d4d4" stroke="#444" stroke-width="0.55"/><rect x="422.58" y="390" width="7.2" height="44.9" fill="#333333" stroke="#161616" stroke-width="0.75"/>
<rect x="429.78" y="387.16" width="7.2" height="2.13" fill="#fff" stroke="#3d3d3d" stroke-width="0.5"/><rect x="429.78" y="389.29" width="7.2" height="2.84" fill="#d4d4d4" stroke="#444" stroke-width="0.55"/><rect x="429.78" y="392.13" width="7.2" height="42.77" fill="#333333" stroke="#161616" stroke-width="0.75"/>
<rect x="436.97" y="389.76" width="7.2" height="2.84" fill="#d4d4d4" stroke="#444" stroke-width="0.55"/><rect x="436.97" y="392.6" width="7.2" height="42.3" fill="#333333" stroke="#161616" stroke-width="0.75"/>
<rect x="444.17" y="385.03" width="7.2" height="2.13" fill="#fff" stroke="#3d3d3d" stroke-width="0.5"/><rect x="444.17" y="387.16" width="7.2" height="2.37" fill="#d4d4d4" stroke="#444" stroke-width="0.55"/><rect x="444.17" y="389.53" width="7.2" height="45.37" fill="#333333" stroke="#161616" stroke-width="0.75"/>
<rect x="451.37" y="394.97" width="7.2" height="2.84" fill="#d4d4d4" stroke="#444" stroke-width="0.55"/><rect x="451.37" y="397.81" width="7.2" height="37.09" fill="#333333" stroke="#161616" stroke-width="0.75"/>
<rect x="458.56" y="390.95" width="7.2" height="2.37" fill="#fff" stroke="#3d3d3d" stroke-width="0.5"/><rect x="458.56" y="393.31" width="7.2" height="41.59" fill="#333333" stroke="#161616" stroke-width="0.75"/>
<rect x="465.76" y="401.12" width="7.2" height="33.78" fill="#333333" stroke="#161616" stroke-width="0.75"/>
<rect x="472.96" y="401.59" width="7.2" height="3.55" fill="#d4d4d4" stroke="#444" stroke-width="0.55"/><rect x="472.96" y="405.14" width="7.2" height="29.76" fill="#333333" stroke="#161616" stroke-width="0.75"/>
<rect x="480.15" y="381.72" width="7.2" height="17.5" fill="#fff" stroke="#3d3d3d" stroke-width="0.5"/><rect x="480.15" y="399.23" width="7.2" height="35.67" fill="#333333" stroke="#161616" stroke-width="0.75"/>
<rect x="487.35" y="395.91" width="7.2" height="3.07" fill="#d4d4d4" stroke="#444" stroke-width="0.55"/><rect x="487.35" y="398.99" width="7.2" height="35.91" fill="#333333" stroke="#161616" stroke-width="0.75"/>
<rect x="494.55" y="390" width="7.2" height="44.9" fill="#333333" stroke="#161616" stroke-width="0.75"/>
<rect x="501.75" y="405.14" width="7.2" height="29.76" fill="#333333" stroke="#161616" stroke-width="0.75"/>
<rect x="508.94" y="389.76" width="7.2" height="3.55" fill="#fff" stroke="#3d3d3d" stroke-width="0.5"/><rect x="508.94" y="393.31" width="7.2" height="41.59" fill="#333333" stroke="#161616" stroke-width="0.75"/>
<rect x="516.14" y="402.54" width="7.2" height="32.36" fill="#333333" stroke="#161616" stroke-width="0.75"/>
<rect x="523.34" y="405.85" width="7.2" height="29.05" fill="#333333" stroke="#161616" stroke-width="0.75"/>
<rect x="530.53" y="395.44" width="7.2" height="39.46" fill="#333333" stroke="#161616" stroke-width="0.75"/>
<rect x="537.73" y="397.81" width="7.2" height="6.39" fill="#fff" stroke="#3d3d3d" stroke-width="0.5"/><rect x="537.73" y="404.19" width="7.2" height="30.71" fill="#333333" stroke="#161616" stroke-width="0.75"/>
<rect x="544.93" y="403.72" width="7.2" height="31.18" fill="#333333" stroke="#161616" stroke-width="0.75"/>
<rect x="552.12" y="410.81" width="7.2" height="3.07" fill="#d4d4d4" stroke="#444" stroke-width="0.55"/><rect x="552.12" y="413.89" width="7.2" height="21.01" fill="#333333" stroke="#161616" stroke-width="0.75"/>
<rect x="559.32" y="417.91" width="7.2" height="16.99" fill="#333333" stroke="#161616" stroke-width="0.75"/>
<rect x="566.52" y="415.07" width="7.2" height="19.83" fill="#333333" stroke="#161616" stroke-width="0.75"/>
<rect x="573.72" y="412.47" width="7.2" height="22.43" fill="#333333" stroke="#161616" stroke-width="0.75"/>
<rect x="580.91" y="415.07" width="7.2" height="19.83" fill="#333333" stroke="#161616" stroke-width="0.75"/>
<rect x="588.11" y="398.52" width="7.2" height="36.38" fill="#333333" stroke="#161616" stroke-width="0.75"/>
<rect x="595.31" y="406.32" width="7.2" height="2.13" fill="#fff" stroke="#3d3d3d" stroke-width="0.5"/><rect x="595.31" y="408.45" width="7.2" height="26.45" fill="#333333" stroke="#161616" stroke-width="0.75"/>
<rect x="602.5" y="351.69" width="7.2" height="57.47" fill="#fff" stroke="#3d3d3d" stroke-width="0.5"/><rect x="602.5" y="409.16" width="7.2" height="25.74" fill="#333333" stroke="#161616" stroke-width="0.75"/>
<rect x="609.7" y="397.1" width="7.2" height="37.8" fill="#333333" stroke="#161616" stroke-width="0.75"/>
<rect x="616.9" y="400.17" width="7.2" height="34.73" fill="#333333" stroke="#161616" stroke-width="0.75"/>
<rect x="624.1" y="389.29" width="7.2" height="45.61" fill="#333333" stroke="#161616" stroke-width="0.75"/>
<rect x="631.29" y="392.6" width="7.2" height="3.55" fill="#fff" stroke="#3d3d3d" stroke-width="0.5"/><rect x="631.29" y="396.15" width="7.2" height="38.75" fill="#333333" stroke="#161616" stroke-width="0.75"/>
<rect x="638.49" y="398.28" width="7.2" height="36.62" fill="#333333" stroke="#161616" stroke-width="0.75"/>
<rect x="645.69" y="390.95" width="7.2" height="43.95" fill="#333333" stroke="#161616" stroke-width="0.75"/>
<rect x="652.88" y="391.42" width="7.2" height="4.73" fill="#fff" stroke="#3d3d3d" stroke-width="0.5"/><rect x="652.88" y="396.15" width="7.2" height="38.75" fill="#333333" stroke="#161616" stroke-width="0.75"/>
<rect x="660.08" y="393.79" width="7.2" height="41.11" fill="#333333" stroke="#161616" stroke-width="0.75"/>
<rect x="667.28" y="396.86" width="6.69" height="38.04" fill="#333333" stroke="#161616" stroke-width="0.75"/>
<path d="M372 297.53V434.7" stroke="#b2b2b2" stroke-width="1.05" fill="none"/><path d="M371.5 411.05h-1.6M371.5 387.4h-1.6M371.5 363.75h-1.6M371.5 340.1h-1.6M371.5 316.45h-1.6M375.8 434.7v2M447.77 434.7v2M519.74 434.7v2M591.71 434.7v2M663.68 434.7v2" stroke="#a8a8a8" stroke-width="0.7" fill="none"/>
<path d="M372 387.4H677.5" stroke="#000" stroke-opacity="0.8" stroke-width="1.9" stroke-dasharray="9 4" fill="none"/><path d="M372 400.88H677.5" stroke="#000" stroke-width="0.62" fill="none"/><path d="M372 406.32H677.5" stroke="#000" stroke-width="0.6" fill="none"/><path d="M372 405.37H677.5" stroke="#000" stroke-opacity="0.88" stroke-width="1.75" stroke-dasharray="4.7 5.8" fill="none"/>
<text class="lb" x="651.3" y="321.6" text-anchor="end" textLength="113.3" lengthAdjust="spacingAndGlyphs">Spruce-pine 1</text><text class="lb" x="651.3" y="346.5" text-anchor="end" textLength="82.7" lengthAdjust="spacingAndGlyphs">0.55 M ha</text>
</g>
<g>
<path d="M58 586.75H362.8" stroke="#a0a0a0" stroke-width="0.8" fill="none"/><rect x="58.1" y="558.59" width="7.17" height="17.03" fill="#fff" stroke="#3d3d3d" stroke-width="0.5"/><rect x="58.1" y="575.62" width="7.17" height="3.78" fill="#d4d4d4" stroke="#444" stroke-width="0.55"/><rect x="58.1" y="579.4" width="7.17" height="7.3" fill="#333333" stroke="#161616" stroke-width="0.75"/>
<rect x="65.27" y="559.3" width="7.17" height="7.33" fill="#fff" stroke="#3d3d3d" stroke-width="0.5"/><rect x="65.27" y="566.63" width="7.17" height="8.04" fill="#d4d4d4" stroke="#444" stroke-width="0.55"/><rect x="65.27" y="574.67" width="7.17" height="12.03" fill="#333333" stroke="#161616" stroke-width="0.75"/>
<rect x="72.45" y="560.72" width="7.17" height="15.85" fill="#d4d4d4" stroke="#444" stroke-width="0.55"/><rect x="72.45" y="576.57" width="7.17" height="10.13" fill="#333333" stroke="#161616" stroke-width="0.75"/>
<rect x="79.62" y="575.62" width="7.17" height="5.91" fill="#fff" stroke="#3d3d3d" stroke-width="0.5"/><rect x="79.62" y="581.53" width="7.17" height="1.66" fill="#d4d4d4" stroke="#444" stroke-width="0.55"/><rect x="79.62" y="583.19" width="7.17" height="3.51" fill="#333333" stroke="#161616" stroke-width="0.75"/>
<rect x="86.8" y="578.46" width="7.17" height="3.07" fill="#d4d4d4" stroke="#444" stroke-width="0.55"/><rect x="86.8" y="581.53" width="7.17" height="5.17" fill="#333333" stroke="#161616" stroke-width="0.75"/>
<rect x="93.97" y="578.22" width="7.17" height="1.89" fill="#d4d4d4" stroke="#444" stroke-width="0.55"/><rect x="93.97" y="580.11" width="7.17" height="6.59" fill="#333333" stroke="#161616" stroke-width="0.75"/>
<rect x="101.14" y="569.71" width="7.17" height="7.1" fill="#d4d4d4" stroke="#444" stroke-width="0.55"/><rect x="101.14" y="576.8" width="7.17" height="9.9" fill="#333333" stroke="#161616" stroke-width="0.75"/>
<rect x="108.32" y="547.24" width="7.17" height="11.35" fill="#fff" stroke="#3d3d3d" stroke-width="0.5"/><rect x="108.32" y="558.59" width="7.17" height="10.88" fill="#d4d4d4" stroke="#444" stroke-width="0.55"/><rect x="108.32" y="569.47" width="7.17" height="17.23" fill="#333333" stroke="#161616" stroke-width="0.75"/>
<rect x="115.49" y="557.65" width="7.17" height="13.24" fill="#fff" stroke="#3d3d3d" stroke-width="0.5"/><rect x="115.49" y="570.89" width="7.17" height="15.81" fill="#333333" stroke="#161616" stroke-width="0.75"/>
<rect x="122.67" y="573.97" width="7.17" height="12.73" fill="#333333" stroke="#161616" stroke-width="0.75"/>
<rect x="129.84" y="566.63" width="7.17" height="6.15" fill="#fff" stroke="#3d3d3d" stroke-width="0.5"/><rect x="129.84" y="572.78" width="7.17" height="13.92" fill="#333333" stroke="#161616" stroke-width="0.75"/>
<rect x="137.01" y="560.25" width="7.17" height="5.91" fill="#fff" stroke="#3d3d3d" stroke-width="0.5"/><rect x="137.01" y="566.16" width="7.17" height="20.54" fill="#333333" stroke="#161616" stroke-width="0.75"/>
<rect x="144.19" y="552.68" width="7.17" height="6.86" fill="#fff" stroke="#3d3d3d" stroke-width="0.5"/><rect x="144.19" y="559.54" width="7.17" height="1.42" fill="#d4d4d4" stroke="#444" stroke-width="0.55"/><rect x="144.19" y="560.96" width="7.17" height="25.74" fill="#333333" stroke="#161616" stroke-width="0.75"/>
<rect x="151.36" y="564.03" width="7.17" height="22.67" fill="#333333" stroke="#161616" stroke-width="0.75"/>
<rect x="158.54" y="570.89" width="7.17" height="15.81" fill="#333333" stroke="#161616" stroke-width="0.75"/>
<rect x="165.71" y="551.02" width="7.17" height="12.3" fill="#fff" stroke="#3d3d3d" stroke-width="0.5"/><rect x="165.71" y="563.32" width="7.17" height="23.38" fill="#333333" stroke="#161616" stroke-width="0.75"/>
<rect x="172.88" y="550.08" width="7.17" height="20.34" fill="#fff" stroke="#3d3d3d" stroke-width="0.5"/><rect x="172.88" y="570.42" width="7.17" height="16.28" fill="#333333" stroke="#161616" stroke-width="0.75"/>
<rect x="180.06" y="565.45" width="7.17" height="0.71" fill="#d4d4d4" stroke="#444" stroke-width="0.55"/><rect x="180.06" y="566.16" width="7.17" height="20.54" fill="#333333" stroke="#161616" stroke-width="0.75"/>
<rect x="187.23" y="569.71" width="7.17" height="16.99" fill="#333333" stroke="#161616" stroke-width="0.75"/>
<rect x="194.41" y="560.49" width="7.17" height="12.77" fill="#fff" stroke="#3d3d3d" stroke-width="0.5"/><rect x="194.41" y="573.26" width="7.17" height="13.44" fill="#333333" stroke="#161616" stroke-width="0.75"/>
<rect x="201.58" y="563.32" width="7.17" height="23.38" fill="#333333" stroke="#161616" stroke-width="0.75"/>
<rect x="208.75" y="572.78" width="7.17" height="13.92" fill="#333333" stroke="#161616" stroke-width="0.75"/>
<rect x="215.93" y="560.49" width="7.17" height="26.22" fill="#333333" stroke="#161616" stroke-width="0.75"/>
<rect x="223.1" y="553.39" width="7.17" height="1.89" fill="#d4d4d4" stroke="#444" stroke-width="0.55"/><rect x="223.1" y="555.28" width="7.17" height="31.42" fill="#333333" stroke="#161616" stroke-width="0.75"/>
<rect x="230.28" y="546.53" width="7.17" height="40.17" fill="#333333" stroke="#161616" stroke-width="0.75"/>
<rect x="237.45" y="542.75" width="7.17" height="3.78" fill="#d4d4d4" stroke="#444" stroke-width="0.55"/><rect x="237.45" y="546.53" width="7.17" height="40.17" fill="#333333" stroke="#161616" stroke-width="0.75"/>
<rect x="244.62" y="549.37" width="7.17" height="1.66" fill="#d4d4d4" stroke="#444" stroke-width="0.55"/><rect x="244.62" y="551.02" width="7.17" height="35.68" fill="#333333" stroke="#161616" stroke-width="0.75"/>
<rect x="251.8" y="550.79" width="7.17" height="1.89" fill="#d4d4d4" stroke="#444" stroke-width="0.55"/><rect x="251.8" y="552.68" width="7.17" height="34.02" fill="#333333" stroke="#161616" stroke-width="0.75"/>
<rect x="258.97" y="570.89" width="7.17" height="15.81" fill="#333333" stroke="#161616" stroke-width="0.75"/>
<rect x="266.15" y="569" width="7.17" height="17.7" fill="#333333" stroke="#161616" stroke-width="0.75"/>
<rect x="273.32" y="568.53" width="7.17" height="18.17" fill="#333333" stroke="#161616" stroke-width="0.75"/>
<rect x="280.49" y="572.31" width="7.17" height="14.39" fill="#333333" stroke="#161616" stroke-width="0.75"/>
<rect x="287.67" y="548.66" width="7.17" height="22.7" fill="#fff" stroke="#3d3d3d" stroke-width="0.5"/><rect x="287.67" y="571.36" width="7.17" height="15.34" fill="#333333" stroke="#161616" stroke-width="0.75"/>
<rect x="294.84" y="568.53" width="7.17" height="18.17" fill="#333333" stroke="#161616" stroke-width="0.75"/>
<rect x="302.02" y="570.42" width="7.17" height="16.28" fill="#333333" stroke="#161616" stroke-width="0.75"/>
<rect x="309.19" y="570.89" width="7.17" height="15.81" fill="#333333" stroke="#161616" stroke-width="0.75"/>
<rect x="316.36" y="566.16" width="7.17" height="20.54" fill="#333333" stroke="#161616" stroke-width="0.75"/>
<rect x="323.54" y="560.25" width="7.17" height="26.45" fill="#333333" stroke="#161616" stroke-width="0.75"/>
<rect x="330.71" y="569.47" width="7.17" height="17.23" fill="#333333" stroke="#161616" stroke-width="0.75"/>
<rect x="337.89" y="563.56" width="7.17" height="6.62" fill="#fff" stroke="#3d3d3d" stroke-width="0.5"/><rect x="337.89" y="570.18" width="7.17" height="16.52" fill="#333333" stroke="#161616" stroke-width="0.75"/>
<rect x="345.06" y="563.8" width="7.17" height="22.9" fill="#333333" stroke="#161616" stroke-width="0.75"/>
<rect x="352.23" y="565.22" width="6.67" height="21.49" fill="#333333" stroke="#161616" stroke-width="0.75"/>
<path d="M58 449.33V586.5" stroke="#b2b2b2" stroke-width="1.05" fill="none"/><path d="M57.5 562.85h-1.6M57.5 539.2h-1.6M57.5 515.55h-1.6M57.5 491.9h-1.6M57.5 468.25h-1.6M61.69 586.5v2M133.43 586.5v2M205.17 586.5v2M276.91 586.5v2M348.65 586.5v2" stroke="#a8a8a8" stroke-width="0.7" fill="none"/>
<path d="M58 539.2H362.8" stroke="#000" stroke-opacity="0.8" stroke-width="1.9" stroke-dasharray="9 4" fill="none"/><path d="M58 552.68H362.8" stroke="#000" stroke-width="0.62" fill="none"/><path d="M58 558.12H362.8" stroke="#000" stroke-width="0.6" fill="none"/><path d="M58 555.99H362.8" stroke="#000" stroke-opacity="0.88" stroke-width="1.75" stroke-dasharray="4.7 5.8" fill="none"/>
<text class="tk" x="56.5" y="590.95" text-anchor="end">0.0</text><text class="tk" x="56.5" y="567.3" text-anchor="end">0.5</text><text class="tk" x="56.5" y="543.65" text-anchor="end">1.0</text><text class="tk" x="56.5" y="520" text-anchor="end">1.5</text><text class="tk" x="56.5" y="496.35" text-anchor="end">2.0</text><text class="tk" x="56.5" y="472.7" text-anchor="end">2.5</text>
<text class="lb" x="346.3" y="475.3" text-anchor="end" textLength="111.11" lengthAdjust="spacingAndGlyphs">White birch 1</text><text class="lb" x="346.3" y="500" text-anchor="end" textLength="82.7" lengthAdjust="spacingAndGlyphs">0.41 M ha</text>
</g>
<g>
<path d="M372.4 585.55H684.5" stroke="#a0a0a0" stroke-width="0.8" fill="none"/><rect x="372.6" y="547.26" width="7.31" height="2.17" fill="#fff" stroke="#3d3d3d" stroke-width="0.5"/><rect x="372.6" y="549.43" width="7.31" height="3.85" fill="#d4d4d4" stroke="#444" stroke-width="0.55"/><rect x="372.6" y="553.28" width="7.31" height="32.22" fill="#333333" stroke="#161616" stroke-width="0.75"/>
<rect x="379.91" y="545.34" width="7.31" height="3.37" fill="#fff" stroke="#3d3d3d" stroke-width="0.5"/><rect x="379.91" y="548.71" width="7.31" height="4.57" fill="#d4d4d4" stroke="#444" stroke-width="0.55"/><rect x="379.91" y="553.28" width="7.31" height="32.22" fill="#333333" stroke="#161616" stroke-width="0.75"/>
<rect x="387.22" y="530.41" width="7.31" height="16.85" fill="#d4d4d4" stroke="#444" stroke-width="0.55"/><rect x="387.22" y="547.26" width="7.31" height="38.24" fill="#333333" stroke="#161616" stroke-width="0.75"/>
<rect x="394.54" y="554.72" width="7.31" height="5.06" fill="#fff" stroke="#3d3d3d" stroke-width="0.5"/><rect x="394.54" y="559.78" width="7.31" height="2.41" fill="#d4d4d4" stroke="#444" stroke-width="0.55"/><rect x="394.54" y="562.19" width="7.31" height="23.31" fill="#333333" stroke="#161616" stroke-width="0.75"/>
<rect x="401.85" y="529.45" width="7.31" height="5.3" fill="#d4d4d4" stroke="#444" stroke-width="0.55"/><rect x="401.85" y="534.74" width="7.31" height="50.76" fill="#333333" stroke="#161616" stroke-width="0.75"/>
<rect x="409.16" y="508.26" width="7.31" height="3.61" fill="#fff" stroke="#3d3d3d" stroke-width="0.5"/><rect x="409.16" y="511.87" width="7.31" height="1.44" fill="#d4d4d4" stroke="#444" stroke-width="0.55"/><rect x="409.16" y="513.32" width="7.31" height="72.18" fill="#333333" stroke="#161616" stroke-width="0.75"/>
<rect x="416.47" y="482.98" width="7.31" height="1.2" fill="#fff" stroke="#3d3d3d" stroke-width="0.5"/><rect x="416.47" y="484.18" width="7.31" height="7.7" fill="#d4d4d4" stroke="#444" stroke-width="0.55"/><rect x="416.47" y="491.89" width="7.31" height="93.61" fill="#333333" stroke="#161616" stroke-width="0.75"/>
<rect x="423.78" y="478.89" width="7.31" height="4.09" fill="#fff" stroke="#3d3d3d" stroke-width="0.5"/><rect x="423.78" y="482.98" width="7.31" height="6.02" fill="#d4d4d4" stroke="#444" stroke-width="0.55"/><rect x="423.78" y="489" width="7.31" height="96.5" fill="#333333" stroke="#161616" stroke-width="0.75"/>
<rect x="431.1" y="456.02" width="7.31" height="9.87" fill="#fff" stroke="#3d3d3d" stroke-width="0.5"/><rect x="431.1" y="465.89" width="7.31" height="0.96" fill="#d4d4d4" stroke="#444" stroke-width="0.55"/><rect x="431.1" y="466.85" width="7.31" height="118.65" fill="#333333" stroke="#161616" stroke-width="0.75"/>
<rect x="438.41" y="470.46" width="7.31" height="6.98" fill="#fff" stroke="#3d3d3d" stroke-width="0.5"/><rect x="438.41" y="477.44" width="7.31" height="3.85" fill="#d4d4d4" stroke="#444" stroke-width="0.55"/><rect x="438.41" y="481.3" width="7.31" height="104.2" fill="#333333" stroke="#161616" stroke-width="0.75"/>
<rect x="445.72" y="452.65" width="7.31" height="12.28" fill="#fff" stroke="#3d3d3d" stroke-width="0.5"/><rect x="445.72" y="464.92" width="7.31" height="2.65" fill="#d4d4d4" stroke="#444" stroke-width="0.55"/><rect x="445.72" y="467.57" width="7.31" height="117.93" fill="#333333" stroke="#161616" stroke-width="0.75"/>
<rect x="453.03" y="451.92" width="7.31" height="1.69" fill="#d4d4d4" stroke="#444" stroke-width="0.55"/><rect x="453.03" y="453.61" width="7.31" height="131.89" fill="#333333" stroke="#161616" stroke-width="0.75"/>
<rect x="460.34" y="458.42" width="7.31" height="6.5" fill="#fff" stroke="#3d3d3d" stroke-width="0.5"/><rect x="460.34" y="464.92" width="7.31" height="2.89" fill="#d4d4d4" stroke="#444" stroke-width="0.55"/><rect x="460.34" y="467.81" width="7.31" height="117.69" fill="#333333" stroke="#161616" stroke-width="0.75"/>
<rect x="467.66" y="477.44" width="7.31" height="5.54" fill="#fff" stroke="#3d3d3d" stroke-width="0.5"/><rect x="467.66" y="482.98" width="7.31" height="102.52" fill="#333333" stroke="#161616" stroke-width="0.75"/>
<rect x="474.97" y="480.81" width="7.31" height="1.44" fill="#fff" stroke="#3d3d3d" stroke-width="0.5"/><rect x="474.97" y="482.26" width="7.31" height="2.65" fill="#d4d4d4" stroke="#444" stroke-width="0.55"/><rect x="474.97" y="484.91" width="7.31" height="100.59" fill="#333333" stroke="#161616" stroke-width="0.75"/>
<rect x="482.28" y="469.26" width="7.31" height="116.24" fill="#333333" stroke="#161616" stroke-width="0.75"/>
<rect x="489.59" y="453.37" width="7.31" height="27.45" fill="#fff" stroke="#3d3d3d" stroke-width="0.5"/><rect x="489.59" y="480.81" width="7.31" height="104.69" fill="#333333" stroke="#161616" stroke-width="0.75"/>
<rect x="496.9" y="471.91" width="7.31" height="1.93" fill="#fff" stroke="#3d3d3d" stroke-width="0.5"/><rect x="496.9" y="473.83" width="7.31" height="1.44" fill="#d4d4d4" stroke="#444" stroke-width="0.55"/><rect x="496.9" y="475.28" width="7.31" height="110.22" fill="#333333" stroke="#161616" stroke-width="0.75"/>
<rect x="504.22" y="503.2" width="7.31" height="82.3" fill="#333333" stroke="#161616" stroke-width="0.75"/>
<rect x="511.53" y="466.85" width="7.31" height="43.09" fill="#fff" stroke="#3d3d3d" stroke-width="0.5"/><rect x="511.53" y="509.95" width="7.31" height="75.55" fill="#333333" stroke="#161616" stroke-width="0.75"/>
<rect x="518.84" y="494.78" width="7.31" height="2.17" fill="#d4d4d4" stroke="#444" stroke-width="0.55"/><rect x="518.84" y="496.94" width="7.31" height="88.56" fill="#333333" stroke="#161616" stroke-width="0.75"/>
<rect x="526.15" y="511.15" width="7.31" height="74.35" fill="#333333" stroke="#161616" stroke-width="0.75"/>
<rect x="533.46" y="506.82" width="7.31" height="78.68" fill="#333333" stroke="#161616" stroke-width="0.75"/>
<rect x="540.78" y="517.17" width="7.31" height="1.69" fill="#d4d4d4" stroke="#444" stroke-width="0.55"/><rect x="540.78" y="518.85" width="7.31" height="66.65" fill="#333333" stroke="#161616" stroke-width="0.75"/>
<rect x="548.09" y="498.39" width="7.31" height="0.96" fill="#d4d4d4" stroke="#444" stroke-width="0.55"/><rect x="548.09" y="499.35" width="7.31" height="86.15" fill="#333333" stroke="#161616" stroke-width="0.75"/>
<rect x="555.4" y="512.11" width="7.31" height="2.17" fill="#d4d4d4" stroke="#444" stroke-width="0.55"/><rect x="555.4" y="514.28" width="7.31" height="71.22" fill="#333333" stroke="#161616" stroke-width="0.75"/>
<rect x="562.71" y="520.3" width="7.31" height="65.2" fill="#333333" stroke="#161616" stroke-width="0.75"/>
<rect x="570.02" y="548.47" width="7.31" height="37.03" fill="#333333" stroke="#161616" stroke-width="0.75"/>
<rect x="577.34" y="551.59" width="7.31" height="2.17" fill="#d4d4d4" stroke="#444" stroke-width="0.55"/><rect x="577.34" y="553.76" width="7.31" height="31.74" fill="#333333" stroke="#161616" stroke-width="0.75"/>
<rect x="584.65" y="545.82" width="7.31" height="39.68" fill="#333333" stroke="#161616" stroke-width="0.75"/>
<rect x="591.96" y="547.26" width="7.31" height="38.24" fill="#333333" stroke="#161616" stroke-width="0.75"/>
<rect x="599.27" y="542.21" width="7.31" height="43.29" fill="#333333" stroke="#161616" stroke-width="0.75"/>
<rect x="606.58" y="485.87" width="7.31" height="60.43" fill="#fff" stroke="#3d3d3d" stroke-width="0.5"/><rect x="606.58" y="546.3" width="7.31" height="39.2" fill="#333333" stroke="#161616" stroke-width="0.75"/>
<rect x="613.9" y="551.11" width="7.31" height="34.39" fill="#333333" stroke="#161616" stroke-width="0.75"/>
<rect x="621.21" y="547.26" width="7.31" height="38.24" fill="#333333" stroke="#161616" stroke-width="0.75"/>
<rect x="628.52" y="543.41" width="7.31" height="42.09" fill="#333333" stroke="#161616" stroke-width="0.75"/>
<rect x="635.83" y="543.41" width="7.31" height="42.09" fill="#333333" stroke="#161616" stroke-width="0.75"/>
<rect x="643.14" y="544.13" width="7.31" height="41.37" fill="#333333" stroke="#161616" stroke-width="0.75"/>
<rect x="650.46" y="545.34" width="7.31" height="40.16" fill="#333333" stroke="#161616" stroke-width="0.75"/>
<rect x="657.77" y="532.33" width="7.31" height="10.35" fill="#fff" stroke="#3d3d3d" stroke-width="0.5"/><rect x="657.77" y="542.69" width="7.31" height="42.81" fill="#333333" stroke="#161616" stroke-width="0.75"/>
<rect x="665.08" y="535.22" width="7.31" height="50.28" fill="#333333" stroke="#161616" stroke-width="0.75"/>
<rect x="672.39" y="544.13" width="6.81" height="41.37" fill="#333333" stroke="#161616" stroke-width="0.75"/>
<path d="M372.4 445.66V585.3" stroke="#b2b2b2" stroke-width="1.05" fill="none"/><path d="M371.9 561.22h-1.6M371.9 537.15h-1.6M371.9 513.07h-1.6M371.9 489h-1.6M371.9 464.92h-1.6M376.26 585.3v2M449.38 585.3v2M522.5 585.3v2M595.62 585.3v2M668.74 585.3v2" stroke="#a8a8a8" stroke-width="0.7" fill="none"/>
<path d="M372.4 537.15H684.5" stroke="#000" stroke-opacity="0.8" stroke-width="1.9" stroke-dasharray="9.2 4.1" fill="none"/><path d="M372.4 550.39H684.5" stroke="#000" stroke-width="0.62" fill="none"/><path d="M372.4 556.17H684.5" stroke="#000" stroke-width="0.6" fill="none"/><path d="M372.4 553.76H684.5" stroke="#000" stroke-opacity="0.88" stroke-width="1.75" stroke-dasharray="4.7 5.8" fill="none"/>
<text class="lb" x="650" y="473.9" text-anchor="end" textLength="92.02" lengthAdjust="spacingAndGlyphs">Jack pine 1</text><text class="lb" x="650" y="498.9" text-anchor="end" textLength="85.18" lengthAdjust="spacingAndGlyphs">0.39 M ha</text>
</g>
<g>
<path d="M57.2 734.85H356.8" stroke="#a0a0a0" stroke-width="0.8" fill="none"/><rect x="57.3" y="706.11" width="7.11" height="9.81" fill="#fff" stroke="#3d3d3d" stroke-width="0.5"/><rect x="57.3" y="715.92" width="7.11" height="3.5" fill="#d4d4d4" stroke="#444" stroke-width="0.55"/><rect x="57.3" y="719.42" width="7.11" height="15.38" fill="#333333" stroke="#161616" stroke-width="0.75"/>
<rect x="64.41" y="694.44" width="7.11" height="3.27" fill="#fff" stroke="#3d3d3d" stroke-width="0.5"/><rect x="64.41" y="697.71" width="7.11" height="7.47" fill="#d4d4d4" stroke="#444" stroke-width="0.55"/><rect x="64.41" y="705.18" width="7.11" height="29.62" fill="#333333" stroke="#161616" stroke-width="0.75"/>
<rect x="71.52" y="687.9" width="7.11" height="18.21" fill="#d4d4d4" stroke="#444" stroke-width="0.55"/><rect x="71.52" y="706.11" width="7.11" height="28.69" fill="#333333" stroke="#161616" stroke-width="0.75"/>
<rect x="78.64" y="704.01" width="7.11" height="30.79" fill="#333333" stroke="#161616" stroke-width="0.75"/>
<rect x="85.75" y="704.48" width="7.11" height="30.32" fill="#333333" stroke="#161616" stroke-width="0.75"/>
<rect x="92.86" y="700.98" width="7.11" height="3.04" fill="#d4d4d4" stroke="#444" stroke-width="0.55"/><rect x="92.86" y="704.01" width="7.11" height="30.79" fill="#333333" stroke="#161616" stroke-width="0.75"/>
<rect x="99.97" y="671.56" width="7.11" height="9.57" fill="#d4d4d4" stroke="#444" stroke-width="0.55"/><rect x="99.97" y="681.13" width="7.11" height="53.67" fill="#333333" stroke="#161616" stroke-width="0.75"/>
<rect x="107.08" y="669.22" width="7.11" height="11.91" fill="#fff" stroke="#3d3d3d" stroke-width="0.5"/><rect x="107.08" y="681.13" width="7.11" height="3.97" fill="#d4d4d4" stroke="#444" stroke-width="0.55"/><rect x="107.08" y="685.1" width="7.11" height="49.7" fill="#333333" stroke="#161616" stroke-width="0.75"/>
<rect x="114.2" y="664.55" width="7.11" height="21.25" fill="#fff" stroke="#3d3d3d" stroke-width="0.5"/><rect x="114.2" y="685.8" width="7.11" height="2.34" fill="#d4d4d4" stroke="#444" stroke-width="0.55"/><rect x="114.2" y="688.13" width="7.11" height="46.67" fill="#333333" stroke="#161616" stroke-width="0.75"/>
<rect x="121.31" y="688.83" width="7.11" height="2.8" fill="#d4d4d4" stroke="#444" stroke-width="0.55"/><rect x="121.31" y="691.64" width="7.11" height="43.16" fill="#333333" stroke="#161616" stroke-width="0.75"/>
<rect x="128.42" y="688.83" width="7.11" height="6.3" fill="#fff" stroke="#3d3d3d" stroke-width="0.5"/><rect x="128.42" y="695.14" width="7.11" height="39.66" fill="#333333" stroke="#161616" stroke-width="0.75"/>
<rect x="135.53" y="667.12" width="7.11" height="2.1" fill="#fff" stroke="#3d3d3d" stroke-width="0.5"/><rect x="135.53" y="669.22" width="7.11" height="1.87" fill="#d4d4d4" stroke="#444" stroke-width="0.55"/><rect x="135.53" y="671.09" width="7.11" height="63.71" fill="#333333" stroke="#161616" stroke-width="0.75"/>
<rect x="142.64" y="669.69" width="7.11" height="3.5" fill="#fff" stroke="#3d3d3d" stroke-width="0.5"/><rect x="142.64" y="673.19" width="7.11" height="1.4" fill="#d4d4d4" stroke="#444" stroke-width="0.55"/><rect x="142.64" y="674.59" width="7.11" height="60.21" fill="#333333" stroke="#161616" stroke-width="0.75"/>
<rect x="149.76" y="658.71" width="7.11" height="3.5" fill="#d4d4d4" stroke="#444" stroke-width="0.55"/><rect x="149.76" y="662.22" width="7.11" height="72.59" fill="#333333" stroke="#161616" stroke-width="0.75"/>
<rect x="156.87" y="676.69" width="7.11" height="3.5" fill="#d4d4d4" stroke="#444" stroke-width="0.55"/><rect x="156.87" y="680.19" width="7.11" height="54.61" fill="#333333" stroke="#161616" stroke-width="0.75"/>
<rect x="163.98" y="626.72" width="7.11" height="16.81" fill="#fff" stroke="#3d3d3d" stroke-width="0.5"/><rect x="163.98" y="643.54" width="7.11" height="91.26" fill="#333333" stroke="#161616" stroke-width="0.75"/>
<rect x="171.09" y="633.73" width="7.11" height="17.98" fill="#fff" stroke="#3d3d3d" stroke-width="0.5"/><rect x="171.09" y="651.71" width="7.11" height="1.4" fill="#d4d4d4" stroke="#444" stroke-width="0.55"/><rect x="171.09" y="653.11" width="7.11" height="81.69" fill="#333333" stroke="#161616" stroke-width="0.75"/>
<rect x="178.2" y="641.2" width="7.11" height="1.63" fill="#d4d4d4" stroke="#444" stroke-width="0.55"/><rect x="178.2" y="642.83" width="7.11" height="91.97" fill="#333333" stroke="#161616" stroke-width="0.75"/>
<rect x="185.32" y="660.81" width="7.11" height="73.99" fill="#333333" stroke="#161616" stroke-width="0.75"/>
<rect x="192.43" y="643.07" width="7.11" height="15.41" fill="#fff" stroke="#3d3d3d" stroke-width="0.5"/><rect x="192.43" y="658.48" width="7.11" height="76.32" fill="#333333" stroke="#161616" stroke-width="0.75"/>
<rect x="199.54" y="677.63" width="7.11" height="57.17" fill="#333333" stroke="#161616" stroke-width="0.75"/>
<rect x="206.65" y="672.49" width="7.11" height="62.31" fill="#333333" stroke="#161616" stroke-width="0.75"/>
<rect x="213.76" y="683.7" width="7.11" height="51.1" fill="#333333" stroke="#161616" stroke-width="0.75"/>
<rect x="220.88" y="681.13" width="7.11" height="7.71" fill="#fff" stroke="#3d3d3d" stroke-width="0.5"/><rect x="220.88" y="688.83" width="7.11" height="45.97" fill="#333333" stroke="#161616" stroke-width="0.75"/>
<rect x="227.99" y="700.51" width="7.11" height="34.29" fill="#333333" stroke="#161616" stroke-width="0.75"/>
<rect x="235.1" y="700.04" width="7.11" height="1.4" fill="#d4d4d4" stroke="#444" stroke-width="0.55"/><rect x="235.1" y="701.44" width="7.11" height="33.36" fill="#333333" stroke="#161616" stroke-width="0.75"/>
<rect x="242.21" y="714.52" width="7.11" height="20.28" fill="#333333" stroke="#161616" stroke-width="0.75"/>
<rect x="249.32" y="716.62" width="7.11" height="18.18" fill="#333333" stroke="#161616" stroke-width="0.75"/>
<rect x="256.44" y="705.18" width="7.11" height="29.62" fill="#333333" stroke="#161616" stroke-width="0.75"/>
<rect x="263.55" y="706.11" width="7.11" height="1.87" fill="#d4d4d4" stroke="#444" stroke-width="0.55"/><rect x="263.55" y="707.98" width="7.11" height="26.82" fill="#333333" stroke="#161616" stroke-width="0.75"/>
<rect x="270.66" y="706.11" width="7.11" height="28.69" fill="#333333" stroke="#161616" stroke-width="0.75"/>
<rect x="277.77" y="701.68" width="7.11" height="33.12" fill="#333333" stroke="#161616" stroke-width="0.75"/>
<rect x="284.88" y="659.18" width="7.11" height="42.5" fill="#fff" stroke="#3d3d3d" stroke-width="0.5"/><rect x="284.88" y="701.68" width="7.11" height="33.12" fill="#333333" stroke="#161616" stroke-width="0.75"/>
<rect x="292" y="696.77" width="7.11" height="38.03" fill="#333333" stroke="#161616" stroke-width="0.75"/>
<rect x="299.11" y="695.37" width="7.11" height="39.43" fill="#333333" stroke="#161616" stroke-width="0.75"/>
<rect x="306.22" y="684.63" width="7.11" height="1.4" fill="#d4d4d4" stroke="#444" stroke-width="0.55"/><rect x="306.22" y="686.03" width="7.11" height="48.77" fill="#333333" stroke="#161616" stroke-width="0.75"/>
<rect x="313.33" y="682.53" width="7.11" height="52.27" fill="#333333" stroke="#161616" stroke-width="0.75"/>
<rect x="320.44" y="674.12" width="7.11" height="60.68" fill="#333333" stroke="#161616" stroke-width="0.75"/>
<rect x="327.56" y="689.07" width="7.11" height="1.4" fill="#fff" stroke="#3d3d3d" stroke-width="0.5"/><rect x="327.56" y="690.47" width="7.11" height="44.33" fill="#333333" stroke="#161616" stroke-width="0.75"/>
<rect x="334.67" y="681.83" width="7.11" height="4.9" fill="#fff" stroke="#3d3d3d" stroke-width="0.5"/><rect x="334.67" y="686.73" width="7.11" height="48.07" fill="#333333" stroke="#161616" stroke-width="0.75"/>
<rect x="341.78" y="685.57" width="7.11" height="49.24" fill="#333333" stroke="#161616" stroke-width="0.75"/>
<rect x="348.89" y="664.55" width="6.61" height="70.25" fill="#333333" stroke="#161616" stroke-width="0.75"/>
<path d="M57.2 599.17V734.6" stroke="#b2b2b2" stroke-width="1.05" fill="none"/><path d="M56.7 711.25h-1.6M56.7 687.9h-1.6M56.7 664.55h-1.6M56.7 641.2h-1.6M56.7 617.85h-1.6M60.86 734.6v2M131.98 734.6v2M203.1 734.6v2M274.22 734.6v2M345.34 734.6v2" stroke="#a8a8a8" stroke-width="0.7" fill="none"/>
<path d="M57.2 687.06H356.8" stroke="#000" stroke-opacity="0.8" stroke-width="1.9" stroke-dasharray="9 4" fill="none"/><path d="M57.2 701.68H356.8" stroke="#000" stroke-width="0.62" fill="none"/><path d="M57.2 706.58H356.8" stroke="#000" stroke-width="0.6" fill="none"/><path d="M57.2 704.48H356.8" stroke="#000" stroke-opacity="0.88" stroke-width="1.75" stroke-dasharray="4.7 5.8" fill="none"/>
<text class="tk" x="55.7" y="738.4" text-anchor="end">0.0</text><text class="tk" x="55.7" y="715.05" text-anchor="end">0.5</text><text class="tk" x="55.7" y="691.7" text-anchor="end">1.0</text><text class="tk" x="55.7" y="668.35" text-anchor="end">1.5</text><text class="tk" x="55.7" y="645" text-anchor="end">2.0</text><text class="tk" x="55.7" y="621.65" text-anchor="end">2.5</text>
<text class="tk" x="60.86" y="749.9" text-anchor="middle">1980</text><text class="tk" x="131.98" y="749.9" text-anchor="middle">1990</text><text class="tk" x="203.1" y="749.9" text-anchor="middle">2000</text><text class="tk" x="274.22" y="749.9" text-anchor="middle">2010</text><text class="tk" x="345.34" y="749.9" text-anchor="middle">2020</text>
<text class="lb" x="339.8" y="621" text-anchor="end" textLength="91.31" lengthAdjust="spacingAndGlyphs">Jack pine 2</text><text class="lb" x="339.8" y="645.5" text-anchor="end" textLength="84.52" lengthAdjust="spacingAndGlyphs">0.28 M ha</text>
</g>
<g>
<path d="M372.3 734.9H677.4" stroke="#a0a0a0" stroke-width="0.8" fill="none"/><rect x="372.3" y="687.3" width="7.19" height="19.89" fill="#fff" stroke="#3d3d3d" stroke-width="0.5"/><rect x="372.3" y="707.19" width="7.19" height="3.31" fill="#d4d4d4" stroke="#444" stroke-width="0.55"/><rect x="372.3" y="710.5" width="7.19" height="24.35" fill="#333333" stroke="#161616" stroke-width="0.75"/>
<rect x="379.49" y="683.51" width="7.19" height="4.74" fill="#fff" stroke="#3d3d3d" stroke-width="0.5"/><rect x="379.49" y="688.25" width="7.19" height="9.94" fill="#d4d4d4" stroke="#444" stroke-width="0.55"/><rect x="379.49" y="698.19" width="7.19" height="36.66" fill="#333333" stroke="#161616" stroke-width="0.75"/>
<rect x="386.68" y="676.88" width="7.19" height="28.17" fill="#d4d4d4" stroke="#444" stroke-width="0.55"/><rect x="386.68" y="705.06" width="7.19" height="29.79" fill="#333333" stroke="#161616" stroke-width="0.75"/>
<rect x="393.87" y="692.03" width="7.19" height="1.66" fill="#d4d4d4" stroke="#444" stroke-width="0.55"/><rect x="393.87" y="693.69" width="7.19" height="41.16" fill="#333333" stroke="#161616" stroke-width="0.75"/>
<rect x="401.06" y="689.43" width="7.19" height="45.42" fill="#333333" stroke="#161616" stroke-width="0.75"/>
<rect x="408.25" y="676.17" width="7.19" height="3.31" fill="#d4d4d4" stroke="#444" stroke-width="0.55"/><rect x="408.25" y="679.49" width="7.19" height="55.36" fill="#333333" stroke="#161616" stroke-width="0.75"/>
<rect x="415.43" y="676.88" width="7.19" height="10.42" fill="#d4d4d4" stroke="#444" stroke-width="0.55"/><rect x="415.43" y="687.3" width="7.19" height="47.55" fill="#333333" stroke="#161616" stroke-width="0.75"/>
<rect x="422.62" y="637.58" width="7.19" height="31.01" fill="#fff" stroke="#3d3d3d" stroke-width="0.5"/><rect x="422.62" y="668.6" width="7.19" height="9.47" fill="#d4d4d4" stroke="#444" stroke-width="0.55"/><rect x="422.62" y="678.07" width="7.19" height="56.78" fill="#333333" stroke="#161616" stroke-width="0.75"/>
<rect x="429.81" y="676.88" width="7.19" height="18.94" fill="#fff" stroke="#3d3d3d" stroke-width="0.5"/><rect x="429.81" y="695.82" width="7.19" height="39.03" fill="#333333" stroke="#161616" stroke-width="0.75"/>
<rect x="437" y="676.17" width="7.19" height="2.37" fill="#d4d4d4" stroke="#444" stroke-width="0.55"/><rect x="437" y="678.54" width="7.19" height="56.31" fill="#333333" stroke="#161616" stroke-width="0.75"/>
<rect x="444.19" y="676.88" width="7.19" height="13.26" fill="#fff" stroke="#3d3d3d" stroke-width="0.5"/><rect x="444.19" y="690.14" width="7.19" height="44.71" fill="#333333" stroke="#161616" stroke-width="0.75"/>
<rect x="451.38" y="702.45" width="7.19" height="2.13" fill="#d4d4d4" stroke="#444" stroke-width="0.55"/><rect x="451.38" y="704.58" width="7.19" height="30.27" fill="#333333" stroke="#161616" stroke-width="0.75"/>
<rect x="458.57" y="693.46" width="7.19" height="5.21" fill="#fff" stroke="#3d3d3d" stroke-width="0.5"/><rect x="458.57" y="698.66" width="7.19" height="1.42" fill="#d4d4d4" stroke="#444" stroke-width="0.55"/><rect x="458.57" y="700.08" width="7.19" height="34.77" fill="#333333" stroke="#161616" stroke-width="0.75"/>
<rect x="465.76" y="683.75" width="7.19" height="51.1" fill="#333333" stroke="#161616" stroke-width="0.75"/>
<rect x="472.95" y="701.03" width="7.19" height="3.55" fill="#d4d4d4" stroke="#444" stroke-width="0.55"/><rect x="472.95" y="704.58" width="7.19" height="30.27" fill="#333333" stroke="#161616" stroke-width="0.75"/>
<rect x="480.13" y="661.26" width="7.19" height="19.41" fill="#fff" stroke="#3d3d3d" stroke-width="0.5"/><rect x="480.13" y="680.67" width="7.19" height="54.18" fill="#333333" stroke="#161616" stroke-width="0.75"/>
<rect x="487.32" y="628.59" width="7.19" height="49.48" fill="#fff" stroke="#3d3d3d" stroke-width="0.5"/><rect x="487.32" y="678.07" width="7.19" height="56.78" fill="#333333" stroke="#161616" stroke-width="0.75"/>
<rect x="494.51" y="682.09" width="7.19" height="52.76" fill="#333333" stroke="#161616" stroke-width="0.75"/>
<rect x="501.7" y="692.03" width="7.19" height="42.82" fill="#333333" stroke="#161616" stroke-width="0.75"/>
<rect x="508.89" y="665.76" width="7.19" height="23.44" fill="#fff" stroke="#3d3d3d" stroke-width="0.5"/><rect x="508.89" y="689.19" width="7.19" height="45.66" fill="#333333" stroke="#161616" stroke-width="0.75"/>
<rect x="516.08" y="696.06" width="7.19" height="38.79" fill="#333333" stroke="#161616" stroke-width="0.75"/>
<rect x="523.27" y="709.08" width="7.19" height="25.77" fill="#333333" stroke="#161616" stroke-width="0.75"/>
<rect x="530.46" y="710.5" width="7.19" height="24.35" fill="#333333" stroke="#161616" stroke-width="0.75"/>
<rect x="537.65" y="698.19" width="7.19" height="6.39" fill="#fff" stroke="#3d3d3d" stroke-width="0.5"/><rect x="537.65" y="704.58" width="7.19" height="30.27" fill="#333333" stroke="#161616" stroke-width="0.75"/>
<rect x="544.84" y="715.71" width="7.19" height="19.14" fill="#333333" stroke="#161616" stroke-width="0.75"/>
<rect x="552.02" y="710.98" width="7.19" height="3.08" fill="#d4d4d4" stroke="#444" stroke-width="0.55"/><rect x="552.02" y="714.05" width="7.19" height="20.8" fill="#333333" stroke="#161616" stroke-width="0.75"/>
<rect x="559.21" y="719.5" width="7.19" height="15.35" fill="#333333" stroke="#161616" stroke-width="0.75"/>
<rect x="566.4" y="721.16" width="7.19" height="13.69" fill="#333333" stroke="#161616" stroke-width="0.75"/>
<rect x="573.59" y="704.11" width="7.19" height="30.74" fill="#333333" stroke="#161616" stroke-width="0.75"/>
<rect x="580.78" y="701.98" width="7.19" height="32.87" fill="#333333" stroke="#161616" stroke-width="0.75"/>
<rect x="587.97" y="701.74" width="7.19" height="33.11" fill="#333333" stroke="#161616" stroke-width="0.75"/>
<rect x="595.16" y="702.69" width="7.19" height="32.16" fill="#333333" stroke="#161616" stroke-width="0.75"/>
<rect x="602.35" y="669.54" width="7.19" height="25.57" fill="#fff" stroke="#3d3d3d" stroke-width="0.5"/><rect x="602.35" y="695.11" width="7.19" height="39.74" fill="#333333" stroke="#161616" stroke-width="0.75"/>
<rect x="609.54" y="692.51" width="7.19" height="42.34" fill="#333333" stroke="#161616" stroke-width="0.75"/>
<rect x="616.73" y="695.11" width="7.19" height="39.74" fill="#333333" stroke="#161616" stroke-width="0.75"/>
<rect x="623.91" y="687.54" width="7.19" height="47.31" fill="#333333" stroke="#161616" stroke-width="0.75"/>
<rect x="631.1" y="690.14" width="7.19" height="44.71" fill="#333333" stroke="#161616" stroke-width="0.75"/>
<rect x="638.29" y="697.24" width="7.19" height="37.61" fill="#333333" stroke="#161616" stroke-width="0.75"/>
<rect x="645.48" y="698.43" width="7.19" height="36.42" fill="#333333" stroke="#161616" stroke-width="0.75"/>
<rect x="652.67" y="686.12" width="7.19" height="6.63" fill="#fff" stroke="#3d3d3d" stroke-width="0.5"/><rect x="652.67" y="692.75" width="7.19" height="42.1" fill="#333333" stroke="#161616" stroke-width="0.75"/>
<rect x="659.86" y="696.53" width="7.19" height="38.32" fill="#333333" stroke="#161616" stroke-width="0.75"/>
<rect x="667.05" y="701.98" width="6.68" height="32.87" fill="#333333" stroke="#161616" stroke-width="0.75"/>
<path d="M372.3 597.34V734.65" stroke="#b2b2b2" stroke-width="1.05" fill="none"/><path d="M371.8 710.98h-1.6M371.8 687.3h-1.6M371.8 663.62h-1.6M371.8 639.95h-1.6M371.8 616.27h-1.6M375.89 734.65v2M447.78 734.65v2M519.67 734.65v2M591.56 734.65v2M663.45 734.65v2" stroke="#a8a8a8" stroke-width="0.7" fill="none"/>
<path d="M372.3 687.3H677.4" stroke="#000" stroke-opacity="0.8" stroke-width="1.9" stroke-dasharray="9 4" fill="none"/><path d="M372.3 700.79H677.4" stroke="#000" stroke-width="0.62" fill="none"/><path d="M372.3 706.24H677.4" stroke="#000" stroke-width="0.6" fill="none"/><path d="M372.3 704.58H677.4" stroke="#000" stroke-opacity="0.88" stroke-width="1.75" stroke-dasharray="4.7 5.8" fill="none"/>
<text class="tk" x="375.89" y="749.9" text-anchor="middle">1980</text><text class="tk" x="447.78" y="749.9" text-anchor="middle">1990</text><text class="tk" x="519.67" y="749.9" text-anchor="middle">2000</text><text class="tk" x="591.56" y="749.9" text-anchor="middle">2010</text><text class="tk" x="663.45" y="749.9" text-anchor="middle">2020</text>
<text class="lb" x="654.8" y="619.8" text-anchor="end" textLength="112.73" lengthAdjust="spacingAndGlyphs">Mixedwood 1</text><text class="lb" x="654.8" y="644.4" text-anchor="end" textLength="82.7" lengthAdjust="spacingAndGlyphs">0.21 M ha</text>
</g>
<g transform="translate(25.5 524.7) rotate(-90)"><text class="big" x="0" y="0" textLength="101.0" lengthAdjust="spacingAndGlyphs">Annual</text><text class="big" x="108.9" y="0" textLength="169.4" lengthAdjust="spacingAndGlyphs">disturbance</text><text class="big" x="286.7" y="0" textLength="46.5" lengthAdjust="spacingAndGlyphs">(%)</text></g>
<text class="big" x="359.5" y="784.6" text-anchor="middle" textLength="62" lengthAdjust="spacingAndGlyphs">Year</text>
</svg>
</body></html>
